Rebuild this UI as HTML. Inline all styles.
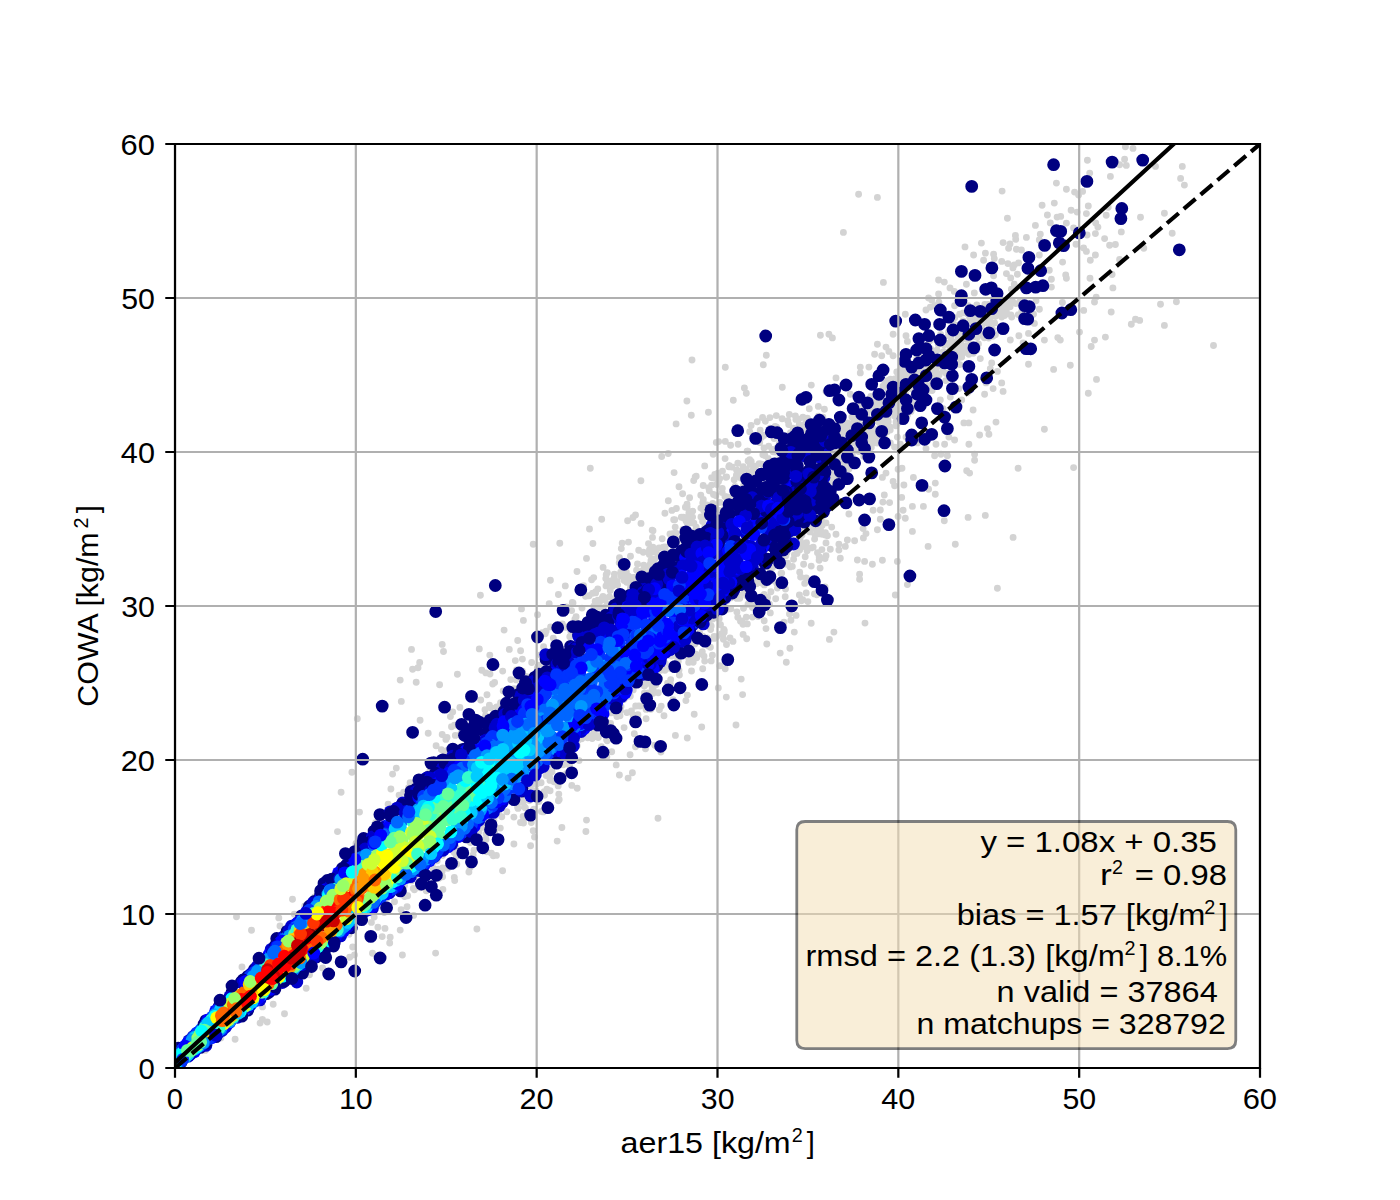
<!DOCTYPE html>
<html><head><meta charset="utf-8"><title>scatter</title>
<style>html,body{margin:0;padding:0;background:#fff;width:1400px;height:1200px;overflow:hidden}svg{display:block}</style>
</head><body>
<svg width="1400" height="1200" viewBox="0 0 1400 1200">
<defs><clipPath id="clip"><rect x="175" y="144" width="1085" height="924"/></clipPath></defs>
<rect width="1400" height="1200" fill="#fff"/>
<g clip-path="url(#clip)">
<path d="M740.5 621.2h0M733.5 495.3h0M524.1 818.8h0M592.9 543.5h0M795.9 419.4h0M700.9 508.1h0M683.4 517.2h0M518 808.4h0M640.2 706.1h0M638.4 705.9h0M758.1 616.5h0M688.9 512.9h0M703.3 499.4h0M220.8 1037.9h0M635.7 706h0M262.5 1006.9h0M804.4 430.5h0M770.3 612.9h0M628.5 542.1h0M583.6 585.8h0M750.9 474.3h0M606.8 756.8h0M515.3 660.6h0M706.9 505h0M811.4 547.9h0M692.7 511.1h0M554 781.8h0M694.9 644h0M242 967h0M552 771.7h0M374.2 917.1h0M514 688.6h0M633.1 577.5h0M673.4 533.4h0M677.7 659.1h0M762.9 454.8h0M653 530.8h0M995.4 334.8h0M442.6 876.8h0M500.3 828.1h0M487 694.8h0M718.3 687.9h0M746.3 617.1h0M489.4 705.1h0M415.3 877.1h0M959.8 364.6h0M822.9 417.3h0M896.8 371.9h0M481.8 670.2h0M556.8 781.5h0M807.4 418.1h0M802 535h0M814.5 593.9h0M614.4 574.2h0M939.1 375h0M701 517h0M597.5 735.7h0M820.1 568.1h0M794.4 554.6h0M576.1 616.7h0M822.2 516.7h0M871.3 447.5h0M978.4 343.9h0M711.2 626h0M638.7 550.2h0M598.3 737.6h0M674.1 472.6h0M799.7 572.2h0M961.1 346.4h0M760.2 430.2h0M743.1 466.7h0M652.5 537.4h0M729.3 465.6h0M724.2 632.3h0M550 780.4h0M976.8 349.9h0M607.2 740.8h0M558.4 594.5h0M683.4 518h0M685.9 700.6h0M404.5 885.4h0M589.1 595.8h0M725.2 668.7h0M976.8 305h0M509.3 649.4h0M752.5 607.5h0M510.8 679.6h0M621 706.5h0M799.4 595h0M668.2 453.5h0M713.5 494.5h0M722.2 492.6h0M887.9 418.8h0M407.7 895.8h0M679.4 675h0M768.7 446.1h0M847.3 423h0M540.4 654.9h0M742.6 694.6h0M907.5 415.1h0M676.4 508.5h0M544.5 795.2h0M614.3 577.4h0M635 583h0M787 564.2h0M911 411.4h0M984.4 337.7h0M767.6 597.4h0M759.7 442.5h0M566.4 773.6h0M967.7 338.6h0M963 320.9h0M712.4 655.3h0M959.7 314.3h0M606.6 739.8h0M865 623.1h0M746.7 638.7h0M284.5 1013.8h0M537.9 666.6h0M825.1 558.5h0M429.8 771.2h0M543.2 811.9h0M755.7 606.8h0M772 449.1h0M626.7 582.3h0M813.2 547.1h0M659.1 548h0M800.3 530.5h0M819.1 560.3h0M719.2 510.4h0M888.2 421.7h0M969.5 316.9h0M963.3 312.9h0M736.6 469.9h0M483 827.3h0M887.5 431.5h0M942.9 371h0M643.8 565.3h0M626.4 572.1h0M731.9 467h0M816.8 594.8h0M622.8 574.7h0M589.2 735.8h0M946.2 373.5h0M663.3 547.3h0M502.7 671.1h0M884.2 435.6h0M696.7 657.8h0M800.2 540.8h0M652.9 547.3h0M664 715.7h0M485 709.7h0M792.3 538.5h0M641 523.4h0M944.3 345.1h0M585.9 831.5h0M439.1 878.3h0M671.6 656h0M386.8 898.6h0M877.9 436.4h0M564.7 761.9h0M750.2 464.4h0M574.9 619.1h0M935.6 373.2h0M819.2 557.1h0M995.5 316.3h0M925.5 384.8h0M582 608.1h0M696.2 476.3h0M620.4 710.5h0M437.2 860.7h0M446.9 750.6h0M764.2 620.8h0M696.2 527.3h0M741.4 470.9h0M572.3 602.4h0M890.2 427.2h0M775.7 598.8h0M789.9 648.3h0M676 533.1h0M569.8 636.7h0M550.1 790.8h0M591.6 579.8h0M956.1 325.1h0M992.1 315.2h0M640.9 480.8h0M719.6 478.8h0M479.3 648.9h0M724.3 630.5h0M973.2 353.2h0M597.8 588.9h0M938.3 344.5h0M595.2 601.2h0M621.2 576h0M581.7 738.7h0M609.4 596.7h0M822.1 525.6h0M628.7 582.1h0M868.9 451h0M670.4 668.4h0M549.7 773.4h0M626.9 581.1h0M935.6 369.2h0M650.4 563.7h0M545.2 633.8h0M938.9 374h0M995.8 315.2h0M542.2 632.6h0M807.4 530.3h0M799.2 424.6h0M394.5 901.8h0M205.2 1050.4h0M523.5 823h0M775.2 426.5h0M619.5 557.7h0M654.8 745.3h0M984.8 304.4h0M985 305h0M595.6 592.9h0M887.5 380.7h0M686.1 521h0M956.1 347.3h0M737.9 427.1h0M702.7 636.2h0M530.6 845.7h0M932.1 390.6h0M653.1 693.3h0M937 350.3h0M501.8 816.7h0M802.9 417.2h0M852.3 454.8h0M630.1 754.7h0M648.2 693h0M879.7 401.6h0M646.1 709.4h0M592.7 593.3h0M691.5 671h0M800.6 577h0M550.6 626.9h0M459.9 707.4h0M719.2 618.7h0M755.4 471.3h0M816.3 529.8h0M709 624.3h0M992.9 336.2h0M968.2 305.7h0M946.6 343.8h0M749.7 431.8h0M570.8 631.6h0M686.6 656.3h0M825.2 535.1h0M711.2 660.9h0M759.2 463.6h0M689 657.2h0M714.1 638.4h0M624.1 727.6h0M720.5 624.8h0M911.3 388.7h0M685.4 507.3h0M637.9 714.8h0M563.3 764.8h0M798.7 419h0M738.1 444.2h0M916.6 359h0M460.8 733.8h0M380.3 905.7h0M541.1 782.7h0M444.3 755.4h0M496.4 855.4h0M484.3 823.5h0M544.2 791.6h0M546.9 789.1h0M420.4 887.7h0M655.9 684.7h0M390.2 937.3h0M632.7 585h0M913.2 396.7h0M772.8 580.6h0M716.8 477.6h0M821.6 521.5h0M802.7 599.6h0M964.6 347.7h0M770.9 591.7h0M411.4 880.9h0M793.6 559.3h0M573 602.9h0M688.7 662.4h0M582.8 735.4h0M371.4 922.4h0M399.1 795.1h0M952.7 350.7h0M595.8 736.5h0M496.7 706.9h0M998.6 313.8h0M798.3 529.6h0M729.4 465.8h0M541.4 811.4h0M992.5 329.5h0M587.7 737.7h0M490.6 707.8h0M653.2 689.9h0M648.5 543.6h0M617.1 581.4h0M470.4 842.6h0M522.6 795h0M634.8 577.4h0M719.9 502.4h0M912.5 407.9h0M769.5 604.2h0M851.9 416.9h0M408.6 787.6h0M486.1 834.3h0M695.2 477h0M976.6 318.3h0M578.2 740.2h0M451.5 726.7h0M690.8 522.9h0M770.2 428.1h0M1011.7 317h0M644.3 686.1h0M743 624.2h0M704 656.1h0M766 628.6h0M450.4 716.6h0M689.6 517h0M673.7 519.7h0M821.9 549.6h0M605.8 578.6h0M877.1 443.1h0M1018.3 314.6h0M502.6 870.8h0M790.9 620.2h0M957.1 361.4h0M932.1 384.3h0M660.9 752.1h0M550.4 580.3h0M887.8 424.4h0M687.1 522.7h0M662.2 538.8h0M845.4 463.8h0M504.1 630.1h0M710.6 629.6h0M886.4 419.1h0M736.4 475.2h0M901.3 372.2h0M757.2 421.8h0M702.3 651.7h0M701.7 727h0M676.1 423.9h0M750.1 472.1h0M356 843.4h0M702.8 502.9h0M723.4 639.3h0M825.1 586.9h0M434.1 861.3h0M689.4 641.7h0M687 504.2h0M491.4 853.2h0M649.4 554.5h0M795.4 415.9h0M621.3 548.6h0M775.2 452h0M485.6 715.4h0M768.2 458.4h0M716.3 442.4h0M872.5 443.4h0M526.1 676.5h0M674.7 519.7h0M822.2 534.3h0M784 622.2h0M989.9 319.8h0M1002.9 303h0M658.3 692.8h0M790.2 566.9h0M438.3 869.3h0M707.2 637.9h0M737.2 473h0M885.4 401.5h0M704.7 465.9h0M577.1 623h0M781.7 573.1h0M689.6 497.7h0M743.3 469.6h0M309.5 974.8h0M644.3 693.3h0M782.1 418.7h0M593.7 577.6h0M712.8 503.5h0M593.8 731.6h0M322.6 967.9h0M853.7 419.4h0M1020.4 300.6h0M628.3 580.5h0M628.1 778.1h0M896.6 408.4h0M894.8 403.7h0M747.9 451.3h0M899.5 399.8h0M676.7 539.2h0M776.5 427.1h0M885.2 421.7h0M730.6 445.3h0M955.7 356.7h0M949.5 342.9h0M764.2 594.4h0M593.8 606.1h0M668.6 655h0M520.6 650.8h0M730.6 597.9h0M950.4 348.1h0M901.7 403.8h0M943.6 351.8h0M692.6 656.7h0M503.2 691h0M382.2 936.6h0M337.5 831.6h0M646 684.2h0M480.7 700h0M954.3 342.3h0M867 431.7h0M725.1 458.6h0M630.3 696.3h0M493.9 820.8h0M638 581.9h0M610.3 590.5h0M764 447.9h0M981.7 326.3h0M954.7 317.8h0M792.3 566.4h0M900.9 368.7h0M744 591.3h0M633.2 689.9h0M654.9 559h0M918.7 355.1h0M524.5 806.9h0M549.2 765.1h0M539 801.5h0M531.7 662.5h0M456.4 856.6h0M864.3 427.7h0M935.2 366.3h0M708.4 645.9h0M899.1 422h0M890.5 379.1h0M987.2 311.6h0M787.5 563.1h0M643.3 552.2h0M737.8 617.3h0M905.6 393.9h0M615.8 598h0M945 351.9h0M958.8 351.9h0M294.3 914.2h0M984.7 322.5h0M500.6 702.8h0M661.7 456.5h0M902.9 376.4h0M743.5 486h0M806.5 542.7h0M592.2 738.6h0M916.9 359.9h0M785.5 589h0M738.5 595.3h0M566.2 627.4h0M876.4 405.5h0M637.5 564h0M523.1 816.4h0M699.7 632.6h0M650.9 709.3h0M726 477.3h0M485.9 672.9h0M646.1 718.8h0M807 429.6h0M906.4 370.6h0M737.8 463.3h0M579.1 760.6h0M577 571.5h0M802.9 432.3h0M314.7 896.9h0M603 596.5h0M506.9 811.8h0M531.3 822.6h0M428.2 733.2h0M861 404.3h0M493.4 821.8h0M752.2 604.3h0M646 704.8h0M883.5 407.4h0M260.1 1023.1h0M610.8 712.9h0M435.6 953.1h0M349.1 934.3h0M712.8 619.1h0M708.8 626.3h0M595.6 591.6h0M630.4 587.9h0M773.1 451.7h0M687.4 695.1h0M441.4 749.6h0M687.1 506.9h0M598.2 607.4h0M606.2 574.8h0M603.3 607.8h0M764.9 455.5h0M519.8 801.8h0M945.8 380.6h0M978.8 317.4h0M958.2 337h0M753.3 469.7h0M651 560.4h0M687.3 738h0M643.5 678.3h0M770.2 571.4h0M883.8 420.5h0M1003.2 304.7h0M679 670.1h0M566.5 607h0M706.1 515.8h0M693.2 662.3h0M626 697.2h0M603.1 567.4h0M494.5 816.4h0M718.6 441.6h0M930.6 349h0M602.5 756.1h0M389.7 943h0M932.8 353.7h0M593 737.6h0M178.6 1074.5h0M354.5 954.9h0M562.3 624h0M777.3 460h0M715.8 510.5h0M470.1 867.6h0M846.3 426.2h0M934.1 377.7h0M963.8 352.4h0M521.7 800.8h0M607.1 604.1h0M631.4 710.9h0M960.1 333.8h0M916.6 372.2h0M456.1 847.6h0M776.3 415.6h0M952.7 353.3h0M665.2 546.9h0M442.1 871.5h0M693.7 480.6h0M919.1 370.3h0M624.2 580.5h0M870.8 396.5h0M436.1 745.7h0M933.5 365.9h0M590.3 468.3h0M908.1 374.6h0M722.5 471.1h0M642.5 570.7h0M682 537.1h0M876.5 436h0M659.4 709.8h0M719.9 665.8h0M671.9 510.4h0M567.4 626.9h0M852.7 424h0M751.1 425.4h0M904.7 377.8h0M807 549.1h0M513.9 844h0M692.6 517.1h0M494.7 832.5h0M818.4 416.2h0M825.4 532.8h0M779.2 443.9h0M620.7 572.3h0M885 383.4h0M650.9 683.1h0M679 486.8h0M798.5 532.6h0M665.3 663.4h0M636.6 570.3h0M877 433.1h0M601.4 746.8h0M633 686.1h0M894.8 378.9h0M445.9 739.4h0M447.8 868.2h0M854.1 419.9h0M708.7 487.8h0M697.6 654.9h0M602.3 597.6h0M704.7 661.1h0M536.5 784.3h0M635.5 746.7h0M931.6 369.5h0M533.2 830.7h0M863.7 456.4h0M714.1 478h0M634.3 733.7h0M809.8 530.7h0M748 604.3h0M571.6 610.6h0M410.1 782.6h0M1009.1 301h0M549.2 603.6h0M513.9 817.1h0M871.1 432h0M529.3 800.6h0M734.2 479.8h0M711.6 477.6h0M1000 305h0M616.6 583.4h0M959.2 334.3h0M806.2 592.9h0M818.6 526.7h0M977.3 337.3h0M664.9 513.2h0M747.1 451.3h0M498.5 811.3h0M781 573.4h0M681.3 517.2h0M649.5 549.7h0M968.2 353.3h0M530.5 786.6h0M516.3 679.9h0M661.2 706.1h0M709.3 490.7h0M854.2 418.3h0M711.6 485.1h0M947.9 373.6h0M933.8 380.4h0M739.8 598.3h0M758.1 579.9h0M818.5 533.8h0M473.1 854.9h0M622.2 543.1h0M762.6 417.5h0M645.5 748.7h0M790.5 432.7h0M523.1 802.6h0M694.3 531.8h0M607.3 582.6h0M970.9 344h0M522.5 671.3h0M788.7 424.5h0M721.5 512.4h0M785.8 555.7h0M746.5 469.6h0M558.4 800.7h0M292.5 899.2h0M525.4 807.9h0M567.8 763h0M777.4 588.1h0M710.4 647.2h0M704.7 527.1h0M603.1 599h0M787.8 420.7h0M870.3 410h0M988.2 304.4h0M724.7 508.2h0M872.8 406.5h0M478.9 831.9h0M835.8 477.5h0M667.6 683.1h0M741.9 620.9h0M1012.1 300.2h0M726.6 476.9h0M909 374.8h0M546.2 775.5h0M633.1 715h0M390.9 789h0M936.7 340.6h0M586.3 735.7h0M709.8 505.4h0M988.6 338h0M777.1 447.9h0M841.7 458.1h0M433.2 868.3h0M875.5 429.6h0M716.8 484.6h0M913.4 388h0M756.5 470.8h0M535.9 790.8h0M404.6 896.5h0M623.9 699.5h0M965.1 338.7h0M871.4 406.5h0M667.7 552.7h0M722.7 635.3h0M726.5 644.5h0M528.7 786h0M944.7 354.2h0M968.4 347.1h0M905.4 378.7h0M725 496.5h0M278.8 917.9h0M929.6 375h0M534.5 837.1h0M601.7 519.3h0M605 599.8h0M735 486.5h0M442.7 868h0M834.1 450.5h0M489.8 655.1h0M808.5 524.6h0M871.8 432h0M612.8 585.9h0M942.5 355.8h0M911.5 402.5h0M718.5 481.5h0M807.1 550.7h0M733 641.4h0M686.9 401h0M664.9 670.3h0M749.7 459.8h0M447 737.4h0M715.4 508h0M652.2 687.7h0M948.6 332h0M725.3 441.4h0M490 674h0M866.9 414.4h0M730.8 608.7h0M748.1 460.9h0M654.7 551.9h0M805.4 544.6h0M776.7 583.2h0M553.3 638.1h0M610.6 723.5h0M715.8 495.5h0M830.9 472.8h0M549.6 776.8h0M718.7 515.5h0M954.5 354.5h0M1010.1 306.8h0M743.5 608.3h0M756.5 583.8h0M865.5 413.8h0M749.7 461.8h0M765.3 421.3h0M375.6 822.8h0M630.5 556.2h0M817.5 552.8h0M923.9 366.7h0M952.4 320.7h0M616.4 714.5h0M761.7 583h0M967.9 323.2h0M633 517.5h0M755.3 466.2h0M928.9 390.6h0M981.9 334.9h0M585.5 596.2h0M533.9 809.1h0M486.2 718.4h0M901 400.5h0M883 386.3h0M652.5 560.8h0M838.2 480.1h0M842.7 432.3h0M617 716.6h0M801.3 535.8h0M870.2 428h0M546.1 631.3h0M560.5 775.1h0M849 468.9h0M993.6 333.8h0M660.8 670.2h0M940.6 334.5h0M797 553.4h0M840.4 478.1h0M577.2 745.7h0M722.3 488.5h0M539.2 665.1h0M523.4 620.4h0M843.6 467.8h0M769.9 417.6h0M950.9 337.4h0M695.8 654.3h0M736.9 598.4h0M926.8 386.5h0M972.7 320.9h0M714.1 636.4h0M842 463.9h0M726.8 609.5h0M874.2 413.8h0M900.3 377.8h0M670.7 679.7h0M677.3 541.4h0M867.5 439.8h0M740.8 478h0M806.2 578h0M874.6 402.3h0M670.3 683.8h0M620 715.8h0M761.9 464.2h0M536 778.8h0M726.9 601h0M870.1 400.5h0M703.6 510.6h0M714.8 474.4h0M401.1 909.7h0M954.8 345.2h0M721.8 633.7h0M796.1 615.4h0M884.4 384.9h0M610.7 580.9h0M413.6 915.4h0M617.6 585h0M668.3 500.8h0M856.7 448.7h0M774.1 438.5h0M682.6 493.8h0M897.9 380.4h0M569.6 765.5h0M689.9 647.1h0M673 699.6h0M932.3 387.9h0M958 335.4h0M943.8 343.5h0M819.2 556.7h0M858.6 451.5h0M885.3 423.4h0M718 473.3h0M793.2 428.1h0M924.9 364.8h0M988.8 324.8h0M971.1 314.7h0M894.6 415.9h0M973.7 336.5h0M589.5 529h0M627.6 520.8h0M652.4 559h0M872.9 439.1h0M787 552.4h0M486.6 851.8h0M836.4 473.2h0M1007 303.3h0M877.2 403.6h0M887.6 388.4h0M616.2 764.9h0M789.5 614h0M736.9 612h0M384.3 912.6h0M831.3 483.8h0M426.3 890.7h0M728.8 466.7h0M842 426.2h0M838.3 465.2h0M647.2 568.8h0M895.5 412.9h0M763.8 435.4h0M970.6 344.3h0M517.7 640.5h0M850.1 426.2h0M635.5 515h0M474 850.3h0M702.6 521.4h0M960.7 343.3h0M517.6 807.3h0M968.2 314.5h0M809.8 531.9h0M619.2 562.7h0M853.4 442.7h0M879.6 410.4h0M1004.8 308.1h0M869.8 435.5h0M658.8 555.3h0M984.6 333.7h0M1002.8 310h0M842.2 456h0M764.3 584.9h0M716.6 636.8h0M879 422.6h0M744.4 593h0M682.8 529.4h0M801.4 547h0M656.1 549.2h0M454.7 880.6h0M971.4 323.7h0M835.6 456.8h0M966.9 345.7h0M882.7 419.3h0M561.9 827.5h0M898.2 373.9h0M652.2 530.2h0M235.1 1039.2h0M959.5 343h0M975.9 321.3h0M586.3 734.9h0M455.3 735.4h0M486 839.5h0M964.2 330.7h0M841.9 437.9h0M772.6 567.6h0M828.4 452.2h0M852.9 428.9h0M933.6 365.2h0M392.6 774.1h0M763.3 597.4h0M998.2 310.3h0M846.9 430.7h0M597.9 600.1h0M868.8 436.4h0M611.7 751.8h0M413.3 888.5h0M909.1 379.6h0M857.4 420.2h0M702.7 668.8h0M549.5 774.9h0M414.4 889.8h0M543.6 646.8h0M723.8 629.4h0M853.3 441.1h0M837.4 449.6h0M862.2 408h0M820.5 530.2h0M859.6 449.5h0M746.4 595.6h0M761.5 437.3h0M799.7 427.4h0M829.4 639.4h0M896.1 421.9h0M814.6 539.1h0M403.7 792.1h0M727.3 497h0M700.8 495.3h0M798.7 542.1h0M929.8 340.8h0M520.5 822.5h0M984.7 317.7h0M799.6 550h0M839.4 435.4h0M703.2 485.5h0M933.2 364h0M751.2 461.4h0M454.3 877.4h0M869.1 427.2h0M895 410.5h0M599.8 601.5h0M890.2 429.9h0M687.2 655.4h0M1011.3 300.9h0M835.3 454h0M262.4 1019.4h0M388.1 804.3h0M861.3 424.6h0M628.5 576.1h0M837.8 453.6h0M862.2 429.3h0M928.8 366.6h0M896.8 381.4h0M815.1 535.1h0M675.2 527.1h0M304.7 905.9h0M805.2 424h0M868.3 419h0M843.3 422.2h0M454.2 852.4h0M479.5 826.9h0M752.5 617.1h0M941.1 366.5h0M558.2 785.9h0M678.3 661.2h0M807.2 419.2h0M813.8 525.3h0M1004.6 315.5h0M805.2 556.8h0M743.1 634.4h0M607.3 572.7h0M537.3 668.3h0M878.7 403.5h0M851.8 453.3h0M670 533.9h0M693.9 523.3h0M942.8 343.4h0M456.8 864.3h0M798.7 539.3h0M946.3 353.2h0M837.2 461.8h0M442.4 855.5h0M713.2 454.2h0M1006.4 311.7h0M900.9 410h0M626.9 712.6h0M842.1 452.3h0M831.6 477.4h0M965.7 323h0M543.6 770.3h0M872.1 426.8h0M1010.9 315h0M937.4 363.6h0M948.3 335.6h0M452.7 712h0M494.6 682.4h0M1087.4 160.3h0M1089.7 173.1h0M1056.4 183.1h0M1066.4 189.3h0M1074.6 192.1h0M1078.6 195h0M1082.6 191.4h0M1002.1 191.1h0M1054.3 203.1h0M1042.1 205.3h0M1088.3 206h0M1071.1 210.3h0M1077.1 212.1h0M1086.4 213.6h0M1047.4 215h0M1057.1 217.1h0M1060.7 216.4h0M1007.4 218.3h0M1050.3 222.9h0M1066.4 223.1h0M1035.4 225.4h0M1073.6 227.9h0M1095.7 222.9h0M1097.9 227.1h0M1095.4 233.6h0M1087.1 235h0M1040.3 234.3h0M1015.4 235.4h0M1015.7 239.3h0M1026.4 237.4h0M1039.3 240h0M1003.1 242.6h0M1010 244h0M1008.6 248.3h0M981.4 243.1h0M965 246.9h0M1076 244.3h0M1083.6 247.9h0M1086.4 251.4h0M1016.4 249.3h0M1021.4 250h0M1039.3 255h0M985.4 253.1h0M973.6 255h0M993.6 254.3h0M994.3 258.6h0M1095.4 255h0M1090.3 260.3h0M983.6 260.3h0M1001.7 261.4h0M1007.9 263.6h0M1014.3 265h0M1018.6 262.9h0M1012.9 267.9h0M1062.6 262.1h0M1006.4 273.6h0M1010.7 277.9h0M1017.4 274.3h0M1049.3 270.3h0M1065.7 275h0M1066.4 278.3h0M1090 278.3h0M993.6 275.7h0M966.4 284.3h0M938.6 280h0M944.3 282.1h0M950 287.9h0M954.3 291.4h0M938.6 294h0M1051.4 279.3h0M1051.4 287.1h0M1014.3 284.3h0M1011.4 289.3h0M974.3 292.9h0M858.6 194.3h0M877.4 197.4h0M843.4 232.4h0M883.4 282.4h0M928.6 297.9h0M1125.4 146.7h0M1133 148.4h0M1124.6 159.2h0M1119.6 164.7h0M1126.3 165.4h0M1155.5 166.4h0M1182.3 166.4h0M1110.4 176.4h0M1180.6 178.4h0M1184.4 185.1h0M1108.2 207.2h0M1106.2 215.2h0M1140.5 217.2h0M1164.4 213.2h0M1121.3 231.9h0M1172.2 233.3h0M1104.6 238.6h0M1109.6 245.3h0M1115.4 244.5h0M1143.8 248.3h0M1119.6 259.5h0M1112.1 274.5h0M1112.9 287.9h0M1096.2 297.1h0M1036 300.8h0M1039.4 309.2h0M1033.5 314.2h0M1034.4 323.4h0M1062.4 302.5h0M1094.5 302h0M1083.7 310.4h0M1111.2 312h0M1160.5 304.2h0M1176.4 301.7h0M1135.5 319.2h0M1139.7 320.4h0M1131.3 324.2h0M1164.4 325.4h0M1079.5 332.1h0M1028.5 333.4h0M1044.4 340.1h0M1057.8 337.6h0M1060.3 340.1h0M1094.5 340.1h0M1091.2 346.5h0M1105.4 337.1h0M1213.5 345.5h0M1028.5 364.3h0M1053.6 369.4h0M1070.3 365.2h0M1096.5 379.4h0M1088.3 393.3h0M1044.4 429.2h0M1073.6 467.6h0M828.9 334.3h0M832.4 337.9h0M905.3 314.3h0M926 310h0M930.3 307.1h0M934.6 305.7h0M938.9 302.1h0M931.7 300h0M954.6 305.7h0M1001.7 317.1h0M1010.3 301.4h0M1016 303.6h0M1021.7 311.4h0M983.1 318.6h0M994.6 322.9h0M1010.3 340h0M1018.9 335.7h0M1023.1 342.9h0M893.1 334.3h0M906 335.7h0M907.4 341.4h0M877.4 344.3h0M886 347.1h0M888.9 351.4h0M893.1 355.7h0M881.7 355.7h0M874.6 354.3h0M860.3 367.1h0M868.9 367.1h0M860.3 372.9h0M836 377.9h0M850.3 394.3h0M826 391.4h0M943.1 367.1h0M961.7 357.1h0M968.9 354.3h0M980.3 358.6h0M991.7 362.9h0M990.3 368.6h0M997.4 371.4h0M1001.7 382.9h0M1003.1 391.4h0M993.1 388.6h0M984.6 394.3h0M986 382.9h0M973.1 410h0M996 422.1h0M987.4 428.6h0M988.9 434.3h0M979.6 435h0M968.9 444.3h0M974.6 454.3h0M963.9 422.9h0M968.9 422.9h0M954.6 440h0M948.9 437.1h0M936 444.3h0M944.6 444.3h0M934.6 455.7h0M947.4 455.7h0M926 448.6h0M917.4 442.9h0M906 437.1h0M900.3 444.3h0M894.6 447.1h0M961.7 400h0M967.4 392.9h0M958.9 388.6h0M950.3 397.1h0M940.3 400h0M943.1 408.6h0M904.6 368.6h0M896 425.7h0M890.3 442.9h0M897.4 437.1h0M941 454.3h0M974.6 460.3h0M1018.1 468.3h0M966.7 470.7h0M969.6 473.1h0M902 468.3h0M898.1 469.3h0M886 473.1h0M882.4 477.4h0M913.4 477.4h0M935.3 483.1h0M903.9 485h0M893.1 481.4h0M894.6 485.7h0M928.6 489.3h0M935.3 494.3h0M884.3 495h0M901.7 497.4h0M882.9 502.1h0M889.6 502.6h0M912.4 506.4h0M923.4 506.4h0M903.1 510.3h0M873.1 510.3h0M880.3 510h0M848.9 514h0M898.1 516.4h0M905.3 518.3h0M880.3 519.3h0M968.1 517.4h0M985.3 515.4h0M944.3 520.7h0M912.4 531.4h0M877.4 529.7h0M863.1 528.6h0M866 533.6h0M863.4 537.9h0M1013.1 537.4h0M955.3 544.3h0M928.1 546.4h0M826 522.9h0M831.7 527.1h0M836 534.3h0M827.4 535.7h0M826 542.9h0M847.4 540h0M854.6 540.7h0M845.3 546.4h0M838.9 544.3h0M838.9 550h0M830.3 549.3h0M826 555.7h0M840.3 558.3h0M857.4 560h0M864.6 561.4h0M872.4 564.3h0M882.4 560.3h0M897.4 561.4h0M859.6 574.3h0M859.6 579.3h0M907.4 584.6h0M997.4 588.3h0M895.3 595h0M480.4 595.2h0M533.2 544.3h0M559.8 543.2h0M586.5 558.4h0M565.3 585.9h0M606 585.9h0M521.5 608.9h0M537.5 614.7h0M411.5 649.4h0M442.2 644.4h0M443.5 651.5h0M419.7 662.4h0M412.6 669.3h0M418 667.8h0M457.4 674.3h0M400.2 680.1h0M416.2 682.3h0M439.6 684.7h0M496.4 665.2h0M522.4 659.1h0M516.5 670h0M492.7 684h0M401.3 701.4h0M357.3 718.7h0M420.1 720.2h0M454.4 725.2h0M442.2 734.5h0M396.3 768.1h0M351.9 772.2h0M341.1 792.3h0M619.4 775h0M632.4 772.8h0M586.5 820.1h0M557.2 841.1h0M493.3 855.8h0M468.9 872h0M442.9 889.4h0M407.1 906.7h0M476.9 929h0M400.2 930.1h0M377.9 927.3h0M385 928.4h0M402.4 955h0M372.5 953.3h0M349.7 957.2h0M359.5 812.1h0M571.8 785.4h0M577.2 788.2h0M558.8 794.1h0M559.2 799.5h0M236.5 916.7h0M251.5 930.2h0M280 926h0M273.2 1004.3h0M267.2 1022h0M306.2 988.2h0M352.7 947h0M833.9 632.1h0M811.2 623.2h0M794.3 632.1h0M766.8 644h0M780.2 653.1h0M786.3 662.2h0M741.2 679.1h0M726.3 697.1h0M736 725h0M694.2 714.2h0M675.4 735.4h0M658 818.2h0M803.6 564.3h0M811.2 566.1h0M804.7 583.4h0M801.4 600.7h0M807.9 601.6h0M785.2 596.8h0M747.3 623.9h0M730 638h0M692 360h0M725.3 367.3h0M766.3 355.3h0M763.3 364.7h0M820.4 335.3h0M744.4 388h0M746.3 393.3h0M733.3 400.3h0M782.3 387.3h0M811.3 385.1h0M708.4 412.3h0M691.3 415.3h0M789.3 414.4h0M818.3 406.4h0M824.4 409.3h0M809.3 408.7h0" stroke="#d3d3d3" stroke-width="6.90" stroke-linecap="round" fill="none"/>
<g stroke-width="12.80" stroke-linecap="round" fill="none"><path d="M789.3 531.3h0" stroke="#000080"/>
<path d="M200.9 1029.5h0" stroke="#0066ff"/>
<path d="M711.8 525.7h0" stroke="#0000cc"/>
<path d="M779.6 562.9h0M774.3 464h0M570.6 646.4h0M433.7 762.6h0M605.6 615.2h0M571.5 649.1h0" stroke="#000080"/>
<path d="M499.4 806h0" stroke="#0000cc"/>
<path d="M685.7 538.1h0M219.2 1006.5h0" stroke="#000080"/>
<path d="M665.6 652.2h0" stroke="#0000cc"/>
<path d="M400.4 890.9h0M780.4 463.3h0M416.4 788.8h0M247.9 976.4h0M333.6 946h0M761.5 474.1h0M620.1 594.3h0M598.1 725.2h0M713.7 612.3h0" stroke="#000080"/>
<path d="M218.6 1008.4h0M573.4 746h0" stroke="#0000cc"/>
<path d="M597.2 617.2h0" stroke="#000080"/>
<path d="M793.5 544h0" stroke="#0000cc"/>
<path d="M342.3 868.5h0" stroke="#000080"/>
<path d="M396.3 887.4h0" stroke="#0000cc"/>
<path d="M819.4 420.2h0M720 520.7h0M790.4 449.6h0M769.1 466.2h0" stroke="#000080"/>
<path d="M405.6 877.6h0" stroke="#0033ff"/>
<path d="M603.1 713.9h0M402.2 879.2h0" stroke="#0000ff"/>
<path d="M797.7 432.9h0M777.2 432.7h0M327.4 880.5h0" stroke="#000080"/>
<path d="M489 812.4h0" stroke="#0000ff"/>
<path d="M710.4 515h0M664.4 557h0" stroke="#000080"/>
<path d="M291.6 926.1h0M372.4 908.4h0" stroke="#0000cc"/>
<path d="M254.6 969.4h0M216 1036.7h0M673.8 705h0M795.1 436.1h0M521.6 791.1h0" stroke="#000080"/>
<path d="M478.9 820.3h0M794.9 529.6h0" stroke="#0000cc"/>
<path d="M436.3 895.2h0" stroke="#000080"/>
<path d="M824 477.5h0" stroke="#0000cc"/>
<path d="M276.7 938.5h0M748 580.9h0" stroke="#000080"/>
<path d="M616.6 703.3h0" stroke="#0000ff"/>
<path d="M785.3 541.8h0" stroke="#000080"/>
<path d="M669.9 649.7h0" stroke="#0000cc"/>
<path d="M816.3 429.4h0" stroke="#000080"/>
<path d="M715.2 608.2h0" stroke="#0000cc"/>
<path d="M427.7 777.5h0M324 883.3h0" stroke="#000080"/>
<path d="M271.2 949.3h0" stroke="#0000cc"/>
<path d="M314.5 901.3h0M824.9 472.4h0" stroke="#000080"/>
<path d="M215.7 1010.8h0" stroke="#0000ff"/>
<path d="M205.9 1020.6h0" stroke="#000080"/>
<path d="M573.5 647.9h0" stroke="#0000cc"/>
<path d="M681.1 653.2h0" stroke="#000080"/>
<path d="M175.6 1056.7h0" stroke="#0000ff"/>
<path d="M761.3 474.3h0M818.6 432.8h0" stroke="#000080"/>
<path d="M581.1 731.5h0" stroke="#0000cc"/>
<path d="M181 1062.2h0M815.6 520.8h0M363.6 838.5h0M781.4 469.6h0" stroke="#000080"/>
<path d="M396.9 885.7h0" stroke="#0000ff"/>
<path d="M790.9 527.6h0M703.3 623.9h0" stroke="#0000cc"/>
<path d="M603.3 618.4h0" stroke="#000080"/>
<path d="M434.5 856.5h0" stroke="#0000cc"/>
<path d="M320.5 895.2h0M708.8 530.1h0M316.3 957h0" stroke="#000080"/>
<path d="M660 661.8h0" stroke="#0000cc"/>
<path d="M247.8 1010.1h0" stroke="#000080"/>
<path d="M427 777.8h0" stroke="#0000cc"/>
<path d="M462.3 749.6h0" stroke="#000080"/>
<path d="M197.7 1032.6h0" stroke="#0033ff"/>
<path d="M269.2 954.4h0M196.4 1033.6h0M280.5 942.1h0" stroke="#0000ff"/>
<path d="M231.8 992.8h0M492.9 664.5h0" stroke="#000080"/>
<path d="M665.1 650.9h0" stroke="#0000cc"/>
<path d="M266.5 993.6h0M329 882.7h0M556.6 645.6h0M525.7 681.7h0" stroke="#000080"/>
<path d="M824.9 450.6h0" stroke="#0000cc"/>
<path d="M771.3 431.9h0" stroke="#000080"/>
<path d="M429.4 860.7h0" stroke="#0000ff"/>
<path d="M586.3 631.7h0M799.7 444.3h0M452.8 749.1h0M681.6 550.7h0M781 448.2h0" stroke="#000080"/>
<path d="M452.6 756.2h0" stroke="#0000cc"/>
<path d="M179.4 1062.7h0M307 911.4h0M296.6 923.8h0" stroke="#0000ff"/>
<path d="M475.6 720.1h0" stroke="#000080"/>
<path d="M402.8 802.8h0M733.9 589.9h0" stroke="#0000cc"/>
<path d="M421.4 884h0" stroke="#000080"/>
<path d="M558 758.9h0" stroke="#0000cc"/>
<path d="M534.8 677.3h0M578.5 634.8h0M821.5 478.8h0" stroke="#000080"/>
<path d="M543.2 766.4h0" stroke="#0000cc"/>
<path d="M178.4 1048.2h0M521.9 788.4h0M804.5 522.1h0" stroke="#000080"/>
<path d="M374.5 902.9h0" stroke="#0033ff"/>
<path d="M743.7 492h0M776.3 553.1h0M241.4 982.1h0M656.8 665.7h0" stroke="#000080"/>
<path d="M177.6 1055.4h0" stroke="#0033ff"/>
<path d="M283.5 936.8h0M692.7 624.9h0" stroke="#0000cc"/>
<path d="M462.8 852.9h0" stroke="#000080"/>
<path d="M194.4 1051.6h0" stroke="#0000ff"/>
<path d="M282.3 982.5h0" stroke="#0000cc"/>
<path d="M200.3 1047.4h0M504 711.4h0M546 659.3h0M555.5 666.6h0M560.1 778.3h0" stroke="#000080"/>
<path d="M285 937.6h0M693 623h0" stroke="#0033ff"/>
<path d="M786 456.8h0M685.9 531.9h0M722 609h0M735.7 491.1h0M688.3 544.9h0M607.4 617.4h0" stroke="#000080"/>
<path d="M545.7 654.6h0" stroke="#0000cc"/>
<path d="M440.8 761.6h0" stroke="#000080"/>
<path d="M437.2 853h0" stroke="#0000ff"/>
<path d="M351.4 927.8h0" stroke="#000080"/>
<path d="M372.4 905.6h0" stroke="#0000ff"/>
<path d="M274.9 989.1h0" stroke="#000080"/>
<path d="M451.8 844.1h0" stroke="#0000cc"/>
<path d="M676.6 647.2h0" stroke="#000080"/>
<path d="M725.2 597.5h0" stroke="#0000cc"/>
<path d="M798 520.7h0" stroke="#000080"/>
<path d="M621.6 696.4h0" stroke="#0000cc"/>
<path d="M374.1 831.1h0M673.3 541.9h0M346.2 865.6h0" stroke="#000080"/>
<path d="M448.1 846.7h0M216.1 1011.6h0" stroke="#0000ff"/>
<path d="M783.3 541.3h0" stroke="#000080"/>
<path d="M802.5 516.7h0" stroke="#0000cc"/>
<path d="M461.6 724.4h0M663.6 565h0M614.1 610.4h0M825.2 487.5h0M734.9 587.1h0" stroke="#000080"/>
<path d="M660.6 658.6h0" stroke="#0000cc"/>
<path d="M338.5 872.9h0" stroke="#0000ff"/>
<path d="M502.5 801.9h0" stroke="#0000cc"/>
<path d="M603 752.2h0" stroke="#000080"/>
<path d="M179.8 1053h0" stroke="#0099ff"/>
<path d="M785.8 534.7h0" stroke="#0000cc"/>
<path d="M593.9 615.9h0M700.2 622h0M323.2 887.9h0M411.1 791.4h0" stroke="#000080"/>
<path d="M717.8 602.8h0" stroke="#0000cc"/>
<path d="M418.9 779.9h0M466.4 836.9h0" stroke="#000080"/>
<path d="M643.9 585.1h0" stroke="#0000cc"/>
<path d="M575.5 647.9h0M379.9 814.6h0M797.9 445.9h0" stroke="#000080"/>
<path d="M493.4 812.4h0" stroke="#0000cc"/>
<path d="M442.8 759.9h0" stroke="#000080"/>
<path d="M611.5 617.3h0" stroke="#0000cc"/>
<path d="M275.2 945.7h0M706.4 531.9h0M751.3 595.9h0M204 1024.4h0" stroke="#000080"/>
<path d="M372.4 837h0" stroke="#0000cc"/>
<path d="M772.6 546.3h0" stroke="#000080"/>
<path d="M297.8 922.7h0M320.4 898.4h0" stroke="#0000ff"/>
<path d="M287.1 931.3h0" stroke="#000080"/>
<path d="M446.1 846.5h0" stroke="#0033ff"/>
<path d="M208.1 1019.8h0" stroke="#0000ff"/>
<path d="M175 1066h0" stroke="#0066ff"/>
<path d="M575.9 648.7h0M225.6 1026.9h0M786.5 528h0" stroke="#0000cc"/>
<path d="M800.4 515.1h0M726 512.7h0M617.8 603.6h0M783.3 527.1h0" stroke="#000080"/>
<path d="M682 641.1h0M671.9 647.3h0" stroke="#0000cc"/>
<path d="M368.3 909.8h0" stroke="#0000ff"/>
<path d="M428.9 859.8h0" stroke="#0033ff"/>
<path d="M691.9 536.2h0" stroke="#000080"/>
<path d="M441.5 768.9h0M389.5 892.8h0" stroke="#0000cc"/>
<path d="M722.2 521h0" stroke="#000080"/>
<path d="M222.1 1030.5h0" stroke="#0000cc"/>
<path d="M784.6 451.2h0M797.3 520.3h0M301.6 915.8h0" stroke="#000080"/>
<path d="M792.3 515.4h0" stroke="#0000cc"/>
<path d="M614.5 605.4h0" stroke="#000080"/>
<path d="M615.6 609h0" stroke="#0000cc"/>
<path d="M814.8 483.5h0" stroke="#000080"/>
<path d="M390.2 811.8h0" stroke="#0000cc"/>
<path d="M824.2 472.2h0M738.1 501.7h0M769.9 576.6h0" stroke="#000080"/>
<path d="M643.3 674.3h0" stroke="#0000cc"/>
<path d="M584.3 728.4h0" stroke="#0000ff"/>
<path d="M217.9 1010h0" stroke="#0033ff"/>
<path d="M750.3 485.7h0" stroke="#000080"/>
<path d="M677 639.2h0" stroke="#0000ff"/>
<path d="M347.1 927.3h0" stroke="#0000cc"/>
<path d="M367.5 843.4h0M699.4 538.1h0" stroke="#000080"/>
<path d="M393.8 887.6h0M386.3 893.9h0" stroke="#0000ff"/>
<path d="M181.6 1060.7h0" stroke="#0033ff"/>
<path d="M800.8 448.1h0M800.5 513.2h0" stroke="#000080"/>
<path d="M212.6 1016.7h0" stroke="#0033ff"/>
<path d="M259.9 999.9h0" stroke="#0000cc"/>
<path d="M621.6 600h0" stroke="#000080"/>
<path d="M491.1 810.3h0" stroke="#0000cc"/>
<path d="M391.7 889.3h0" stroke="#0033ff"/>
<path d="M424.4 864.6h0" stroke="#0000ff"/>
<path d="M746.6 479.1h0M598.4 621.3h0" stroke="#000080"/>
<path d="M250.9 1004.4h0" stroke="#0033ff"/>
<path d="M653.4 668.8h0M790.9 486.2h0" stroke="#0000ff"/>
<path d="M491.1 824.9h0M751.6 496.2h0" stroke="#000080"/>
<path d="M761.9 548.6h0" stroke="#0000cc"/>
<path d="M286.1 937.7h0" stroke="#0066ff"/>
<path d="M421.8 786.3h0" stroke="#000080"/>
<path d="M695.3 618h0" stroke="#0000ff"/>
<path d="M764.7 604.8h0" stroke="#000080"/>
<path d="M325.4 889.7h0M763.3 545.9h0M386.2 826.1h0" stroke="#0000ff"/>
<path d="M552.7 654.2h0M715.7 526.9h0" stroke="#000080"/>
<path d="M423.5 863.3h0" stroke="#0033ff"/>
<path d="M309.4 906.2h0M821.7 443.2h0" stroke="#000080"/>
<path d="M492 806.3h0" stroke="#0033ff"/>
<path d="M347 864.8h0M667.9 563.2h0M445.4 760.7h0M740.3 584.7h0M815.7 508.1h0" stroke="#000080"/>
<path d="M556.9 664.4h0" stroke="#0000cc"/>
<path d="M691.5 544.1h0M514 799.6h0" stroke="#000080"/>
<path d="M348.2 925.6h0" stroke="#0000cc"/>
<path d="M398 884.1h0" stroke="#0000ff"/>
<path d="M205.9 1045.4h0" stroke="#0000cc"/>
<path d="M195.1 1050.1h0" stroke="#0000ff"/>
<path d="M176.3 1065h0" stroke="#0033ff"/>
<path d="M364.3 911.5h0" stroke="#0000cc"/>
<path d="M724.4 597.4h0" stroke="#000080"/>
<path d="M251.3 973.7h0M296.8 982h0M578.8 636.4h0" stroke="#0000cc"/>
<path d="M214.5 1014.7h0" stroke="#0066ff"/>
<path d="M518.7 694.3h0M791 463.5h0" stroke="#000080"/>
<path d="M175 1063.9h0" stroke="#00ccff"/>
<path d="M811.4 500.2h0" stroke="#0000cc"/>
<path d="M782.6 464.4h0M670.2 566.8h0M629.7 595.3h0M479.5 722.2h0M325.8 947.6h0M621.6 609h0" stroke="#000080"/>
<path d="M249.7 976.7h0" stroke="#0033ff"/>
<path d="M790.8 452.4h0" stroke="#0000cc"/>
<path d="M782.2 470.6h0" stroke="#000080"/>
<path d="M217 1034.3h0" stroke="#0000cc"/>
<path d="M815.9 442.8h0M506.4 703.2h0" stroke="#000080"/>
<path d="M534.5 680.9h0" stroke="#0000cc"/>
<path d="M605 705.5h0" stroke="#0033ff"/>
<path d="M261.7 995h0" stroke="#0066ff"/>
<path d="M764.7 562.9h0" stroke="#000080"/>
<path d="M351.4 920.1h0" stroke="#0066ff"/>
<path d="M268.9 992.2h0M641.8 576.9h0" stroke="#000080"/>
<path d="M664.6 650.4h0" stroke="#0000ff"/>
<path d="M732.8 586h0M737 504.1h0" stroke="#000080"/>
<path d="M419.6 870.6h0" stroke="#0000cc"/>
<path d="M302.2 918.3h0" stroke="#0000ff"/>
<path d="M571.2 650.8h0" stroke="#000080"/>
<path d="M581.1 728.1h0" stroke="#0000cc"/>
<path d="M182.2 1049.8h0" stroke="#0033ff"/>
<path d="M217.4 1033.5h0" stroke="#0000cc"/>
<path d="M464.7 749.1h0" stroke="#000080"/>
<path d="M393.1 885.3h0" stroke="#0066ff"/>
<path d="M784.4 536h0M695.8 544.8h0M768.2 538.8h0M519 673h0M320.6 890.9h0" stroke="#000080"/>
<path d="M797 513.2h0" stroke="#0000cc"/>
<path d="M445 761.8h0M495.5 716.2h0" stroke="#000080"/>
<path d="M220.3 1009.7h0" stroke="#00ccff"/>
<path d="M384.5 826.8h0M257 966.7h0" stroke="#0000cc"/>
<path d="M498.8 717.1h0" stroke="#000080"/>
<path d="M809.8 515.4h0" stroke="#0000cc"/>
<path d="M402 804.6h0" stroke="#000080"/>
<path d="M340.6 935.9h0" stroke="#0000cc"/>
<path d="M766.9 494h0" stroke="#0000ff"/>
<path d="M188.3 1056.2h0" stroke="#0000cc"/>
<path d="M474.2 826.3h0" stroke="#0000ff"/>
<path d="M770.6 530.8h0" stroke="#0000cc"/>
<path d="M255.4 1000.6h0" stroke="#0033ff"/>
<path d="M724.4 522.5h0M482.8 847.8h0" stroke="#000080"/>
<path d="M177 1064.1h0" stroke="#0066ff"/>
<path d="M777.7 497.7h0" stroke="#000080"/>
<path d="M229.8 1022.1h0" stroke="#0000ff"/>
<path d="M221.9 1029.1h0" stroke="#0033ff"/>
<path d="M190.4 1054.3h0" stroke="#0000cc"/>
<path d="M610.7 697.8h0" stroke="#0000ff"/>
<path d="M245 1009.8h0" stroke="#0033ff"/>
<path d="M490.1 720.1h0" stroke="#000080"/>
<path d="M753.3 561.8h0M710.7 533.5h0M313 903.1h0" stroke="#0000cc"/>
<path d="M822.8 459.1h0" stroke="#000080"/>
<path d="M380.2 898.6h0" stroke="#0033ff"/>
<path d="M525.6 683.1h0M538.9 674.1h0" stroke="#000080"/>
<path d="M221.9 1028.4h0" stroke="#0033ff"/>
<path d="M539.2 680.2h0M749.7 586.6h0M755.7 438.4h0" stroke="#000080"/>
<path d="M296.5 926.9h0" stroke="#0066ff"/>
<path d="M650.2 664.2h0M563.4 754h0" stroke="#0000cc"/>
<path d="M207.3 1021.9h0" stroke="#0000ff"/>
<path d="M557.5 666h0" stroke="#0000cc"/>
<path d="M788.4 488.4h0M375.6 901h0" stroke="#0000ff"/>
<path d="M271.1 955.2h0M487.5 808.1h0" stroke="#0066ff"/>
<path d="M805.3 456.1h0" stroke="#0000cc"/>
<path d="M778.9 551.2h0M817.2 493.8h0" stroke="#000080"/>
<path d="M461.5 832.8h0" stroke="#0033ff"/>
<path d="M539.6 767.9h0" stroke="#0000cc"/>
<path d="M183.7 1048.1h0" stroke="#0033ff"/>
<path d="M206.1 1043.2h0" stroke="#000080"/>
<path d="M709.4 534.2h0" stroke="#0000cc"/>
<path d="M252.4 974.9h0" stroke="#0033ff"/>
<path d="M262.8 992.8h0" stroke="#00ccff"/>
<path d="M777.5 531.6h0" stroke="#0000cc"/>
<path d="M424.3 779.9h0M503.9 716.6h0" stroke="#000080"/>
<path d="M466 750.6h0" stroke="#0000ff"/>
<path d="M511.9 787.4h0" stroke="#0033ff"/>
<path d="M415.6 791.8h0" stroke="#0000cc"/>
<path d="M604.5 621.4h0" stroke="#000080"/>
<path d="M193.2 1036.6h0" stroke="#0000cc"/>
<path d="M636.6 682.2h0M360.8 844.7h0" stroke="#000080"/>
<path d="M580.3 724.8h0" stroke="#0066ff"/>
<path d="M766.1 538.7h0" stroke="#0000cc"/>
<path d="M502.2 798.9h0" stroke="#0000ff"/>
<path d="M520.8 695.8h0" stroke="#0000cc"/>
<path d="M366.1 845.1h0" stroke="#000080"/>
<path d="M553.8 754h0" stroke="#0000ff"/>
<path d="M483.5 808.9h0M185.7 1056.9h0" stroke="#0099ff"/>
<path d="M718.1 608.6h0" stroke="#0000cc"/>
<path d="M766 563.1h0M762.6 474.8h0" stroke="#000080"/>
<path d="M551.8 673.5h0" stroke="#0000ff"/>
<path d="M781.6 527.5h0M302.6 973.1h0" stroke="#000080"/>
<path d="M323.4 946h0" stroke="#0033ff"/>
<path d="M241.8 1016.2h0M557.4 648.2h0M774.7 488.8h0M803.1 474.7h0" stroke="#000080"/>
<path d="M443.1 850.3h0" stroke="#0000cc"/>
<path d="M635.9 587.4h0M445.2 763.8h0M796 490.7h0" stroke="#000080"/>
<path d="M206.1 1024.6h0" stroke="#0066ff"/>
<path d="M451 769.1h0" stroke="#0000cc"/>
<path d="M492.4 804.4h0" stroke="#0033ff"/>
<path d="M226.3 1025.3h0" stroke="#0000ff"/>
<path d="M248.9 1006.7h0" stroke="#0000cc"/>
<path d="M756.9 494.2h0" stroke="#000080"/>
<path d="M376.2 897.6h0" stroke="#00ffff"/>
<path d="M204.7 1027.7h0" stroke="#33ffcc"/>
<path d="M188.9 1040.7h0" stroke="#0000cc"/>
<path d="M574.6 733.6h0" stroke="#0000ff"/>
<path d="M542.8 763.6h0" stroke="#0000cc"/>
<path d="M435.4 773.2h0" stroke="#000080"/>
<path d="M335.7 936.4h0M385.9 893.3h0" stroke="#0000ff"/>
<path d="M289.1 930.7h0" stroke="#0000cc"/>
<path d="M196.7 1048.3h0" stroke="#0033ff"/>
<path d="M458.4 836.5h0" stroke="#0000ff"/>
<path d="M811.1 424.6h0M788.5 470h0" stroke="#000080"/>
<path d="M181.2 1053.5h0" stroke="#00ffff"/>
<path d="M237.5 1017.3h0" stroke="#0000cc"/>
<path d="M248.6 1004.8h0" stroke="#00ccff"/>
<path d="M580.7 723.5h0" stroke="#0000ff"/>
<path d="M766.7 561.1h0M504.8 714.3h0" stroke="#0000cc"/>
<path d="M188.6 1053.8h0" stroke="#00ccff"/>
<path d="M574.2 727.2h0" stroke="#0066ff"/>
<path d="M782.4 522.1h0" stroke="#000080"/>
<path d="M399.7 880.8h0" stroke="#0033ff"/>
<path d="M390.4 813.3h0" stroke="#000080"/>
<path d="M630.4 675.8h0" stroke="#0033ff"/>
<path d="M571.5 726.5h0" stroke="#0000ff"/>
<path d="M504.7 796.1h0" stroke="#0066ff"/>
<path d="M613.5 733.7h0M487.3 725.1h0M558.8 654.9h0" stroke="#000080"/>
<path d="M764.2 498.7h0" stroke="#0000cc"/>
<path d="M551.7 747.8h0" stroke="#0066ff"/>
<path d="M276.3 946.7h0" stroke="#0000ff"/>
<path d="M390.5 823.2h0" stroke="#0033ff"/>
<path d="M652.6 656h0" stroke="#0000ff"/>
<path d="M708 606.4h0" stroke="#0000cc"/>
<path d="M327.9 894.1h0" stroke="#0099ff"/>
<path d="M366.6 907h0" stroke="#00ccff"/>
<path d="M602.4 701.9h0" stroke="#0033ff"/>
<path d="M806.2 507.5h0" stroke="#000080"/>
<path d="M643 592.5h0" stroke="#0000cc"/>
<path d="M506.9 789.7h0" stroke="#0033ff"/>
<path d="M643 594.8h0" stroke="#000080"/>
<path d="M776.4 519.7h0" stroke="#0000cc"/>
<path d="M517 702.8h0" stroke="#000080"/>
<path d="M551.1 758.1h0M655.3 599.4h0" stroke="#0000cc"/>
<path d="M243 980h0M486 733.8h0M591.7 628.3h0M403 807.3h0" stroke="#000080"/>
<path d="M767.9 524.2h0M778.5 497.8h0M783.7 478.6h0" stroke="#0000cc"/>
<path d="M680.1 556.4h0M791.5 438.7h0" stroke="#000080"/>
<path d="M438.2 776.6h0M447.8 773.7h0" stroke="#0000ff"/>
<path d="M804 485.9h0M540.7 678.7h0" stroke="#000080"/>
<path d="M330.9 885.4h0" stroke="#0000cc"/>
<path d="M689.7 630.9h0M816.6 477.3h0" stroke="#000080"/>
<path d="M647.7 664.9h0" stroke="#0000ff"/>
<path d="M599.9 625.9h0" stroke="#000080"/>
<path d="M484.7 741h0" stroke="#0000ff"/>
<path d="M523.7 772.9h0" stroke="#0099ff"/>
<path d="M649.4 578.3h0M546.3 671.5h0M783.2 477.7h0" stroke="#000080"/>
<path d="M765.2 539h0" stroke="#0000cc"/>
<path d="M537.2 760.7h0" stroke="#0066ff"/>
<path d="M197.6 1032.9h0" stroke="#0033ff"/>
<path d="M235.1 1016.6h0" stroke="#0099ff"/>
<path d="M405.8 811.7h0" stroke="#0000ff"/>
<path d="M329.9 890.6h0" stroke="#0099ff"/>
<path d="M450.5 772.4h0" stroke="#0000ff"/>
<path d="M426.3 859h0" stroke="#0099ff"/>
<path d="M627.8 606.9h0" stroke="#0000ff"/>
<path d="M817.8 474.8h0M747 573.7h0" stroke="#0000cc"/>
<path d="M823.6 511.6h0" stroke="#000080"/>
<path d="M390.3 886.6h0" stroke="#00ccff"/>
<path d="M608.7 619.9h0M736.5 578.3h0M768.2 491h0M788.1 472.8h0" stroke="#000080"/>
<path d="M410.4 876.7h0" stroke="#0000cc"/>
<path d="M229.8 1021.5h0" stroke="#0066ff"/>
<path d="M482.6 813h0" stroke="#0033ff"/>
<path d="M657.9 568.7h0M673.1 554.7h0" stroke="#000080"/>
<path d="M549.3 749.8h0" stroke="#0099ff"/>
<path d="M475.1 722.2h0M686.9 546.8h0" stroke="#000080"/>
<path d="M673.2 636.1h0" stroke="#0000ff"/>
<path d="M293.6 969.8h0" stroke="#0066ff"/>
<path d="M194 1049.2h0" stroke="#00ccff"/>
<path d="M821.8 502.4h0" stroke="#000080"/>
<path d="M632.7 594.6h0" stroke="#0000cc"/>
<path d="M388.1 886.7h0" stroke="#00ccff"/>
<path d="M408.7 811.5h0" stroke="#0066ff"/>
<path d="M590.2 717.6h0" stroke="#0000ff"/>
<path d="M764.7 503.9h0M766.9 560.3h0M558.6 661.7h0" stroke="#000080"/>
<path d="M193.6 1037.2h0" stroke="#0066ff"/>
<path d="M765.9 487.4h0" stroke="#000080"/>
<path d="M313.3 958.3h0" stroke="#0000cc"/>
<path d="M594.7 627.9h0" stroke="#000080"/>
<path d="M547.6 758.8h0" stroke="#0033ff"/>
<path d="M452.8 759.1h0" stroke="#000080"/>
<path d="M588.9 724.8h0M454 765.1h0" stroke="#0000cc"/>
<path d="M397.7 883.6h0" stroke="#0000ff"/>
<path d="M730.1 522.9h0" stroke="#000080"/>
<path d="M294.1 928.8h0" stroke="#0033ff"/>
<path d="M419.4 790.3h0M619 611.9h0" stroke="#000080"/>
<path d="M302.1 964.3h0" stroke="#0000ff"/>
<path d="M811.2 445.2h0" stroke="#000080"/>
<path d="M639.5 599.4h0" stroke="#0000cc"/>
<path d="M328.3 894.7h0" stroke="#00ccff"/>
<path d="M796.8 509.2h0" stroke="#000080"/>
<path d="M539.7 686.6h0" stroke="#0000cc"/>
<path d="M187.7 1054.7h0" stroke="#00ccff"/>
<path d="M576.8 652.7h0" stroke="#0000cc"/>
<path d="M687.4 600.9h0" stroke="#0000ff"/>
<path d="M796.8 481.5h0" stroke="#000080"/>
<path d="M618.4 616.1h0" stroke="#0000cc"/>
<path d="M325.5 941.3h0" stroke="#00ffff"/>
<path d="M587.7 636.9h0M627.1 609.4h0" stroke="#0000cc"/>
<path d="M771.6 478.3h0" stroke="#000080"/>
<path d="M650.4 658.5h0" stroke="#0000cc"/>
<path d="M190.3 1051.3h0" stroke="#66ff99"/>
<path d="M476.4 730h0" stroke="#000080"/>
<path d="M811.9 482.8h0" stroke="#0000cc"/>
<path d="M626.5 669.4h0" stroke="#0000ff"/>
<path d="M744.8 579.4h0M808.2 471.2h0" stroke="#000080"/>
<path d="M343.6 930.9h0" stroke="#0000ff"/>
<path d="M540.1 753.4h0" stroke="#0066ff"/>
<path d="M625.2 693h0" stroke="#0000ff"/>
<path d="M548.8 744.9h0" stroke="#0099ff"/>
<path d="M397.1 808.1h0" stroke="#0000cc"/>
<path d="M201.2 1045.2h0" stroke="#0000ff"/>
<path d="M501.7 792.2h0" stroke="#0066ff"/>
<path d="M796.2 472.1h0" stroke="#0000cc"/>
<path d="M788.3 521.5h0M324.2 952.5h0M410.5 796h0" stroke="#000080"/>
<path d="M735.2 571.3h0M771.7 505.3h0M752.4 568h0" stroke="#0000cc"/>
<path d="M374.3 900.4h0" stroke="#0066ff"/>
<path d="M770.1 472h0" stroke="#000080"/>
<path d="M346.1 924.6h0" stroke="#0099ff"/>
<path d="M817.6 450.1h0" stroke="#000080"/>
<path d="M720.9 527.6h0" stroke="#0000cc"/>
<path d="M732.3 593h0" stroke="#000080"/>
<path d="M688.8 626.7h0" stroke="#0000cc"/>
<path d="M692.6 573.6h0M685.5 557.6h0" stroke="#0000ff"/>
<path d="M677.3 567.5h0M686.5 551.4h0M606.2 732h0" stroke="#000080"/>
<path d="M773.1 521h0" stroke="#0000cc"/>
<path d="M219.1 1030.3h0" stroke="#0099ff"/>
<path d="M455.8 764.9h0" stroke="#0000cc"/>
<path d="M782 450.8h0" stroke="#000080"/>
<path d="M685.2 639.8h0" stroke="#0000cc"/>
<path d="M775.5 534.7h0" stroke="#000080"/>
<path d="M198.9 1046.2h0" stroke="#0099ff"/>
<path d="M766 518.4h0" stroke="#0000cc"/>
<path d="M786.8 546.5h0" stroke="#000080"/>
<path d="M533.9 764.6h0" stroke="#0000ff"/>
<path d="M810.3 491.4h0" stroke="#0000cc"/>
<path d="M419.3 791h0M706.6 538.2h0" stroke="#000080"/>
<path d="M272.4 951.3h0" stroke="#0000cc"/>
<path d="M192 1039.7h0" stroke="#0066ff"/>
<path d="M458.5 753.9h0M469.5 739.3h0" stroke="#000080"/>
<path d="M289.6 935.8h0" stroke="#0099ff"/>
<path d="M777.2 477.3h0" stroke="#000080"/>
<path d="M594.2 712.7h0" stroke="#0033ff"/>
<path d="M672.7 634.8h0" stroke="#0000ff"/>
<path d="M263.9 991.6h0" stroke="#00ffff"/>
<path d="M697.1 547h0" stroke="#0000cc"/>
<path d="M464.5 735.3h0" stroke="#000080"/>
<path d="M245 1006.3h0" stroke="#99ff66"/>
<path d="M460.2 765.4h0" stroke="#0000ff"/>
<path d="M480.1 817h0" stroke="#0033ff"/>
<path d="M456.4 769.2h0" stroke="#0000ff"/>
<path d="M571.6 724.9h0" stroke="#0066ff"/>
<path d="M531.9 693.6h0" stroke="#0000ff"/>
<path d="M620.3 621.6h0" stroke="#0000cc"/>
<path d="M729.6 513.9h0" stroke="#000080"/>
<path d="M818 456.7h0" stroke="#0000cc"/>
<path d="M471.6 824.2h0" stroke="#0033ff"/>
<path d="M730.9 582.3h0" stroke="#0000ff"/>
<path d="M752.5 525.9h0" stroke="#0000cc"/>
<path d="M396.3 880.3h0" stroke="#00ccff"/>
<path d="M514.8 708.4h0M455.2 769.3h0" stroke="#0000ff"/>
<path d="M728.9 583.3h0" stroke="#0000cc"/>
<path d="M481.5 810.3h0" stroke="#0066ff"/>
<path d="M516.6 786.6h0" stroke="#0033ff"/>
<path d="M690.8 554.1h0" stroke="#0000cc"/>
<path d="M737.6 569h0" stroke="#0000ff"/>
<path d="M478.3 817.5h0" stroke="#0066ff"/>
<path d="M774.5 535.2h0" stroke="#000080"/>
<path d="M467.1 821.1h0" stroke="#0099ff"/>
<path d="M642.1 656.7h0" stroke="#0000ff"/>
<path d="M545.4 753.1h0" stroke="#0066ff"/>
<path d="M797.4 501.6h0" stroke="#000080"/>
<path d="M756.4 517.5h0" stroke="#0000ff"/>
<path d="M573.5 738.2h0" stroke="#0000cc"/>
<path d="M477.2 749h0" stroke="#0000ff"/>
<path d="M637.2 600.6h0" stroke="#0000cc"/>
<path d="M797.4 465.7h0" stroke="#000080"/>
<path d="M433.8 856.3h0" stroke="#0033ff"/>
<path d="M514.9 703.4h0" stroke="#000080"/>
<path d="M361.4 909.7h0" stroke="#00ffff"/>
<path d="M186 1054.4h0" stroke="#33ffcc"/>
<path d="M496.9 724.2h0" stroke="#0000cc"/>
<path d="M425.5 782.9h0" stroke="#000080"/>
<path d="M658.6 599.7h0" stroke="#0000cc"/>
<path d="M491.9 730.3h0" stroke="#000080"/>
<path d="M793.7 492.9h0" stroke="#0000cc"/>
<path d="M590.3 712.1h0" stroke="#0000ff"/>
<path d="M240.8 1015.6h0" stroke="#000080"/>
<path d="M782.6 501.5h0M649.1 658.1h0" stroke="#0000cc"/>
<path d="M437.6 850.6h0" stroke="#0033ff"/>
<path d="M482.7 814.8h0M711.5 590.6h0M689.3 621.1h0M721.7 558.1h0" stroke="#0000ff"/>
<path d="M698.9 553.5h0" stroke="#0000cc"/>
<path d="M783.3 549.9h0" stroke="#000080"/>
<path d="M616 701h0" stroke="#0000cc"/>
<path d="M544 682.4h0M626.3 690.1h0" stroke="#0000ff"/>
<path d="M783.9 534h0" stroke="#000080"/>
<path d="M740.6 568.5h0" stroke="#0000cc"/>
<path d="M483.4 745.5h0" stroke="#0033ff"/>
<path d="M723.6 590.6h0" stroke="#0000ff"/>
<path d="M411.1 871.6h0" stroke="#0066ff"/>
<path d="M719.7 553.3h0" stroke="#0000cc"/>
<path d="M453.9 770.5h0" stroke="#0033ff"/>
<path d="M810 461.5h0" stroke="#000080"/>
<path d="M504 740h0" stroke="#0099ff"/>
<path d="M304.8 963.6h0" stroke="#0000cc"/>
<path d="M258.6 997.9h0" stroke="#0000ff"/>
<path d="M371 841.6h0M776.7 536.2h0" stroke="#000080"/>
<path d="M797.2 495.2h0" stroke="#0000cc"/>
<path d="M284.3 981.3h0" stroke="#000080"/>
<path d="M766.4 559.5h0" stroke="#0000cc"/>
<path d="M496.6 801.6h0" stroke="#0000ff"/>
<path d="M777.8 478.8h0" stroke="#000080"/>
<path d="M544.3 743.9h0" stroke="#00ccff"/>
<path d="M495 727.8h0" stroke="#0000cc"/>
<path d="M504.6 788.7h0" stroke="#0066ff"/>
<path d="M759.5 549.5h0" stroke="#000080"/>
<path d="M664.9 644.8h0" stroke="#0000ff"/>
<path d="M613.7 693h0M620.3 660.2h0" stroke="#0033ff"/>
<path d="M796.5 468.7h0" stroke="#000080"/>
<path d="M685.6 595.4h0" stroke="#0033ff"/>
<path d="M605.5 625.3h0" stroke="#000080"/>
<path d="M718.8 545.3h0" stroke="#0000cc"/>
<path d="M275.7 980.8h0" stroke="#99ff66"/>
<path d="M778.8 513.5h0" stroke="#0000ff"/>
<path d="M508.8 691.8h0M508.6 712.4h0" stroke="#000080"/>
<path d="M647.2 656.2h0" stroke="#0000cc"/>
<path d="M254.9 972.1h0" stroke="#0033ff"/>
<path d="M337.2 876.5h0" stroke="#0000cc"/>
<path d="M331.7 879.2h0" stroke="#000080"/>
<path d="M682.9 565.8h0" stroke="#0000cc"/>
<path d="M351.7 866.9h0" stroke="#0000ff"/>
<path d="M618.8 688.4h0" stroke="#0033ff"/>
<path d="M471 831.5h0" stroke="#0000cc"/>
<path d="M211.6 1037.6h0" stroke="#0000ff"/>
<path d="M541.5 709.4h0" stroke="#0066ff"/>
<path d="M757.5 527.7h0" stroke="#0000ff"/>
<path d="M204 1043h0" stroke="#0033ff"/>
<path d="M365.1 849h0" stroke="#0000cc"/>
<path d="M598.9 653h0" stroke="#0033ff"/>
<path d="M294.4 934.5h0" stroke="#66ff99"/>
<path d="M336.7 888.6h0" stroke="#33ffcc"/>
<path d="M564.6 728.4h0" stroke="#0033ff"/>
<path d="M538.8 751.4h0" stroke="#0099ff"/>
<path d="M296.8 929.9h0" stroke="#33ffcc"/>
<path d="M339.8 931.4h0" stroke="#0033ff"/>
<path d="M524.2 700.2h0M658.2 590.9h0M782.6 507.1h0M714.8 544.2h0" stroke="#0000cc"/>
<path d="M414.1 868.8h0" stroke="#0099ff"/>
<path d="M823.6 469.6h0M411.8 800.6h0" stroke="#000080"/>
<path d="M373.4 902.4h0" stroke="#0066ff"/>
<path d="M302.2 920.8h0" stroke="#0099ff"/>
<path d="M655.1 583.2h0M354.7 851.6h0M729.1 504.6h0" stroke="#000080"/>
<path d="M184.4 1056.3h0M211.6 1019.7h0" stroke="#33ffcc"/>
<path d="M640.9 617.8h0" stroke="#0000ff"/>
<path d="M740.4 512.2h0" stroke="#000080"/>
<path d="M418.8 797.4h0" stroke="#0000ff"/>
<path d="M423.6 785.9h0" stroke="#000080"/>
<path d="M418.2 809.5h0" stroke="#0099ff"/>
<path d="M498.1 797.6h0" stroke="#0033ff"/>
<path d="M651.5 655.6h0" stroke="#0000ff"/>
<path d="M818.3 469.5h0" stroke="#000080"/>
<path d="M688.4 633.6h0" stroke="#0000cc"/>
<path d="M537.3 727h0" stroke="#0099ff"/>
<path d="M619.1 681h0" stroke="#0033ff"/>
<path d="M559 744.5h0" stroke="#0066ff"/>
<path d="M189.1 1041.9h0" stroke="#0033ff"/>
<path d="M639.8 669.5h0" stroke="#0000ff"/>
<path d="M392.2 882.2h0" stroke="#00ffff"/>
<path d="M569.5 725.7h0" stroke="#0066ff"/>
<path d="M628.3 629h0M454.3 771.9h0" stroke="#0033ff"/>
<path d="M614.6 691h0" stroke="#0000ff"/>
<path d="M339.6 878.5h0" stroke="#0000cc"/>
<path d="M504.1 721.6h0" stroke="#0000ff"/>
<path d="M328.4 896.2h0M282.6 976.3h0" stroke="#00ffff"/>
<path d="M361.4 857.4h0" stroke="#0066ff"/>
<path d="M708.7 600.1h0" stroke="#0000cc"/>
<path d="M806.1 439.8h0" stroke="#000080"/>
<path d="M746.1 533.8h0" stroke="#0000cc"/>
<path d="M229.4 1021.5h0" stroke="#0099ff"/>
<path d="M752.2 497.7h0M725.3 552.2h0" stroke="#0000cc"/>
<path d="M582.2 697.2h0" stroke="#0066ff"/>
<path d="M449.9 843.1h0M574.7 664.5h0" stroke="#0033ff"/>
<path d="M261.9 992.3h0" stroke="#66ff99"/>
<path d="M221.3 1027.6h0" stroke="#0099ff"/>
<path d="M585.1 688.3h0" stroke="#0033ff"/>
<path d="M300.1 930.5h0" stroke="#ffcc00"/>
<path d="M464.5 828.4h0M467.6 824.3h0" stroke="#0066ff"/>
<path d="M762.7 519.6h0" stroke="#0000ff"/>
<path d="M649.8 611.6h0" stroke="#0033ff"/>
<path d="M520.6 766.4h0" stroke="#0099ff"/>
<path d="M382.3 893.5h0" stroke="#00ccff"/>
<path d="M631.9 600.2h0" stroke="#0000cc"/>
<path d="M682.5 606.7h0" stroke="#0033ff"/>
<path d="M539.1 687.8h0" stroke="#0000cc"/>
<path d="M711 509.8h0" stroke="#000080"/>
<path d="M387.3 828.2h0" stroke="#0000ff"/>
<path d="M517.5 767.5h0" stroke="#0099ff"/>
<path d="M704.9 546h0" stroke="#0000cc"/>
<path d="M469.5 809.1h0" stroke="#00ccff"/>
<path d="M430.3 778.2h0" stroke="#0000cc"/>
<path d="M374.3 893.9h0" stroke="#ccff33"/>
<path d="M599.7 659.1h0" stroke="#0033ff"/>
<path d="M691.5 618.3h0" stroke="#0000cc"/>
<path d="M297.9 964.9h0" stroke="#00ccff"/>
<path d="M536.7 750.6h0" stroke="#0099ff"/>
<path d="M640.5 670.7h0" stroke="#0000cc"/>
<path d="M639.2 672.8h0" stroke="#0033ff"/>
<path d="M654.7 646.9h0" stroke="#0000ff"/>
<path d="M353.1 917.5h0" stroke="#00ffff"/>
<path d="M426.8 782.1h0" stroke="#000080"/>
<path d="M519.7 717.7h0" stroke="#0000ff"/>
<path d="M294.8 967.2h0" stroke="#00ccff"/>
<path d="M648.5 674.6h0" stroke="#000080"/>
<path d="M492.5 794.3h0" stroke="#00ccff"/>
<path d="M469.4 747.8h0M706.5 615.3h0" stroke="#000080"/>
<path d="M330.3 890.7h0" stroke="#0066ff"/>
<path d="M282.1 941.1h0M574.3 723.5h0" stroke="#0000ff"/>
<path d="M686.8 592.3h0" stroke="#0033ff"/>
<path d="M440.6 774.7h0" stroke="#0000cc"/>
<path d="M728.5 551h0" stroke="#0000ff"/>
<path d="M552.9 737.7h0" stroke="#0066ff"/>
<path d="M636 613.6h0" stroke="#0000ff"/>
<path d="M655.2 571.6h0" stroke="#000080"/>
<path d="M533.5 756.5h0" stroke="#0099ff"/>
<path d="M607.9 624.6h0M750.5 569.9h0" stroke="#000080"/>
<path d="M430.1 857.5h0" stroke="#0033ff"/>
<path d="M691.2 590h0" stroke="#0000cc"/>
<path d="M759.3 500.5h0M800.1 496.3h0" stroke="#000080"/>
<path d="M719.3 579.2h0M567.8 661h0" stroke="#0000cc"/>
<path d="M344.1 868.7h0" stroke="#000080"/>
<path d="M195.3 1037.4h0" stroke="#00ccff"/>
<path d="M613 630.8h0" stroke="#0000cc"/>
<path d="M382.2 888.1h0" stroke="#99ff66"/>
<path d="M747.1 529.3h0" stroke="#0033ff"/>
<path d="M520.7 790.5h0M745.2 545.1h0" stroke="#0000cc"/>
<path d="M643.9 601.4h0" stroke="#000080"/>
<path d="M561.8 739.2h0M422.2 801.2h0" stroke="#0033ff"/>
<path d="M723.7 588.4h0M716.7 537.4h0" stroke="#0000cc"/>
<path d="M387.1 883.7h0" stroke="#99ff66"/>
<path d="M600.1 702.8h0" stroke="#0000ff"/>
<path d="M196.5 1047.3h0" stroke="#00ffff"/>
<path d="M175.3 1064.1h0" stroke="#33ffcc"/>
<path d="M519.3 775.3h0" stroke="#0066ff"/>
<path d="M418.8 794.5h0" stroke="#000080"/>
<path d="M343.1 927.2h0" stroke="#0099ff"/>
<path d="M706.8 605.1h0" stroke="#0000cc"/>
<path d="M569.3 715.9h0" stroke="#0099ff"/>
<path d="M529.8 702.1h0" stroke="#0000cc"/>
<path d="M805 501.1h0" stroke="#000080"/>
<path d="M543.5 741.2h0" stroke="#0099ff"/>
<path d="M602.5 722h0" stroke="#000080"/>
<path d="M697.7 558.2h0M747 528.5h0M625.6 617.3h0" stroke="#0000cc"/>
<path d="M685.3 614.3h0" stroke="#0000ff"/>
<path d="M374.5 837.8h0" stroke="#0000cc"/>
<path d="M766.3 511.3h0" stroke="#000080"/>
<path d="M215.1 1015h0" stroke="#0099ff"/>
<path d="M722.7 529h0" stroke="#000080"/>
<path d="M175.2 1060.8h0" stroke="#00ccff"/>
<path d="M438.1 782.8h0" stroke="#0000ff"/>
<path d="M252.9 999.6h0" stroke="#66ff99"/>
<path d="M622 624.4h0" stroke="#0000ff"/>
<path d="M804 487.9h0" stroke="#0000cc"/>
<path d="M423.6 796.2h0" stroke="#0033ff"/>
<path d="M482.2 748.6h0" stroke="#0000ff"/>
<path d="M480.6 810.1h0" stroke="#0099ff"/>
<path d="M808.8 473.8h0" stroke="#0000cc"/>
<path d="M811.7 433.2h0" stroke="#000080"/>
<path d="M678.5 631h0" stroke="#0000ff"/>
<path d="M662.8 584.8h0" stroke="#000080"/>
<path d="M378.5 887h0" stroke="#ffff00"/>
<path d="M557.8 696.2h0" stroke="#0099ff"/>
<path d="M176.2 1057.9h0" stroke="#00ccff"/>
<path d="M486.6 739.9h0" stroke="#0000cc"/>
<path d="M528.5 688.8h0" stroke="#000080"/>
<path d="M602.5 634.6h0" stroke="#0000ff"/>
<path d="M759.2 552.4h0" stroke="#0000cc"/>
<path d="M722.3 579.7h0" stroke="#0000ff"/>
<path d="M726.2 536.7h0" stroke="#0000cc"/>
<path d="M471.2 800.1h0M472.6 796.6h0" stroke="#00ffff"/>
<path d="M732.8 531h0" stroke="#0000ff"/>
<path d="M554.7 688.6h0" stroke="#0066ff"/>
<path d="M294.5 966.5h0" stroke="#66ff99"/>
<path d="M198.3 1044.7h0" stroke="#99ff66"/>
<path d="M718.9 542.4h0" stroke="#000080"/>
<path d="M286.5 942.7h0" stroke="#99ff66"/>
<path d="M671.1 603.9h0" stroke="#0033ff"/>
<path d="M814 425.4h0" stroke="#000080"/>
<path d="M682.2 590.5h0" stroke="#0033ff"/>
<path d="M753.7 560.6h0" stroke="#0000cc"/>
<path d="M588.7 713.7h0M581.5 662.4h0" stroke="#0033ff"/>
<path d="M563 727.7h0" stroke="#0099ff"/>
<path d="M722.1 535.3h0" stroke="#000080"/>
<path d="M641 654.5h0" stroke="#0000ff"/>
<path d="M562.1 736.6h0" stroke="#0033ff"/>
<path d="M455.6 791.1h0" stroke="#33ffcc"/>
<path d="M633 622h0" stroke="#0033ff"/>
<path d="M660.5 614.2h0" stroke="#0000ff"/>
<path d="M526.4 734.5h0" stroke="#00ccff"/>
<path d="M761.5 506.1h0" stroke="#0000cc"/>
<path d="M674.6 614.4h0" stroke="#0000ff"/>
<path d="M295.3 964.3h0" stroke="#99ff66"/>
<path d="M628.3 635.5h0M700.7 612.2h0" stroke="#0000cc"/>
<path d="M783.9 519.4h0" stroke="#0033ff"/>
<path d="M296.2 963.7h0" stroke="#99ff66"/>
<path d="M567.9 665.2h0" stroke="#0000cc"/>
<path d="M373.3 892.5h0" stroke="#ffcc00"/>
<path d="M737.3 559.4h0" stroke="#0000cc"/>
<path d="M800.5 488.8h0" stroke="#000080"/>
<path d="M632.1 643.1h0" stroke="#0033ff"/>
<path d="M669.1 578.9h0M511.4 716.5h0" stroke="#0000cc"/>
<path d="M591.4 682.6h0" stroke="#0066ff"/>
<path d="M708.7 575.6h0" stroke="#0000ff"/>
<path d="M635.8 636.1h0" stroke="#0066ff"/>
<path d="M647 611.2h0" stroke="#0000ff"/>
<path d="M736.3 562.6h0M750.3 546h0" stroke="#0000cc"/>
<path d="M753.7 513.6h0" stroke="#000080"/>
<path d="M693.9 575.9h0" stroke="#0000ff"/>
<path d="M340.8 879.4h0" stroke="#0099ff"/>
<path d="M825.2 440.9h0" stroke="#0000cc"/>
<path d="M649.7 624.3h0M722.4 569.9h0" stroke="#0000ff"/>
<path d="M411.5 866.5h0" stroke="#00ffff"/>
<path d="M745.6 515.6h0" stroke="#0000cc"/>
<path d="M647.8 650h0" stroke="#0033ff"/>
<path d="M592.8 693.1h0M544.1 731.1h0" stroke="#0066ff"/>
<path d="M632.6 645.6h0M545.6 694.2h0" stroke="#0033ff"/>
<path d="M672.5 585.9h0" stroke="#0000ff"/>
<path d="M397.4 878.3h0" stroke="#00ffff"/>
<path d="M619.5 643.3h0" stroke="#0033ff"/>
<path d="M510 736.6h0" stroke="#0099ff"/>
<path d="M270.4 989.4h0" stroke="#0000ff"/>
<path d="M595 702.4h0" stroke="#0066ff"/>
<path d="M372.5 895.8h0" stroke="#99ff66"/>
<path d="M229.7 996.9h0" stroke="#0000cc"/>
<path d="M760.9 527.3h0" stroke="#0033ff"/>
<path d="M262.4 991.3h0" stroke="#99ff66"/>
<path d="M264.3 990.5h0" stroke="#33ffcc"/>
<path d="M400.3 878.9h0" stroke="#0099ff"/>
<path d="M604.7 685.4h0M480 753.2h0" stroke="#0066ff"/>
<path d="M742.4 547.8h0" stroke="#0000ff"/>
<path d="M610.2 683.2h0M636.1 623.7h0" stroke="#0033ff"/>
<path d="M474 795.4h0M366.9 863h0" stroke="#66ff99"/>
<path d="M522.7 757.1h0" stroke="#0099ff"/>
<path d="M544.5 677.2h0" stroke="#000080"/>
<path d="M339.4 930.6h0" stroke="#0099ff"/>
<path d="M523.7 710.3h0" stroke="#0000ff"/>
<path d="M481.3 805.8h0" stroke="#00ccff"/>
<path d="M458.6 769.8h0" stroke="#0033ff"/>
<path d="M520.1 762.3h0" stroke="#00ccff"/>
<path d="M624 652.1h0" stroke="#0000ff"/>
<path d="M457.4 825.2h0" stroke="#00ccff"/>
<path d="M177.5 1061.4h0" stroke="#00ffff"/>
<path d="M487.4 764.9h0M233.6 1016.7h0" stroke="#33ffcc"/>
<path d="M661.8 653.6h0" stroke="#0000ff"/>
<path d="M615.7 666.8h0" stroke="#0066ff"/>
<path d="M685.3 585.8h0" stroke="#0000ff"/>
<path d="M489.6 772.5h0" stroke="#00ffff"/>
<path d="M600.8 676.4h0" stroke="#0066ff"/>
<path d="M379.9 829.3h0" stroke="#0000cc"/>
<path d="M627.7 664.8h0" stroke="#0033ff"/>
<path d="M513.9 767.2h0" stroke="#00ccff"/>
<path d="M635.2 605.4h0" stroke="#0000cc"/>
<path d="M298.9 935.4h0" stroke="#ff9900"/>
<path d="M185.9 1052.4h0" stroke="#66ff99"/>
<path d="M786.3 491.8h0" stroke="#000080"/>
<path d="M564.8 702.5h0" stroke="#0099ff"/>
<path d="M573.4 690.6h0" stroke="#0066ff"/>
<path d="M749.9 504.8h0" stroke="#000080"/>
<path d="M598.8 632.9h0" stroke="#0000cc"/>
<path d="M538.4 737.6h0" stroke="#00ccff"/>
<path d="M594.5 634.7h0" stroke="#0000cc"/>
<path d="M700 534.3h0" stroke="#000080"/>
<path d="M658.9 643.2h0" stroke="#0033ff"/>
<path d="M760.3 573.8h0" stroke="#000080"/>
<path d="M279 976.6h0" stroke="#ffff00"/>
<path d="M656.7 584.2h0" stroke="#0000cc"/>
<path d="M527.6 704.6h0" stroke="#0033ff"/>
<path d="M694.1 559.4h0M634.4 609.5h0" stroke="#0000cc"/>
<path d="M318.9 901.8h0M574.8 710.6h0" stroke="#0066ff"/>
<path d="M385.3 885.9h0" stroke="#33ffcc"/>
<path d="M561.2 670h0" stroke="#0000cc"/>
<path d="M373.6 888.8h0" stroke="#ff9900"/>
<path d="M434.1 824.8h0" stroke="#99ff66"/>
<path d="M672.9 622.9h0" stroke="#0033ff"/>
<path d="M647.3 590.2h0" stroke="#000080"/>
<path d="M316.3 906.3h0" stroke="#0099ff"/>
<path d="M484.4 783.7h0" stroke="#33ffcc"/>
<path d="M499.2 763.2h0" stroke="#00ffff"/>
<path d="M463.3 784.2h0" stroke="#33ffcc"/>
<path d="M563.3 684h0M672 597h0M615.1 688.9h0" stroke="#0033ff"/>
<path d="M412.6 859.5h0" stroke="#66ff99"/>
<path d="M536.5 710.2h0" stroke="#0066ff"/>
<path d="M474.4 813.1h0" stroke="#00ccff"/>
<path d="M541.2 718.6h0" stroke="#0099ff"/>
<path d="M628.9 663.3h0" stroke="#0033ff"/>
<path d="M671.2 641.1h0" stroke="#0000ff"/>
<path d="M558.5 682.9h0M694.3 606h0" stroke="#0033ff"/>
<path d="M783.1 491.2h0M547.3 677.9h0" stroke="#0000cc"/>
<path d="M768.4 505.9h0" stroke="#0000ff"/>
<path d="M317.8 946.8h0" stroke="#00ffff"/>
<path d="M309.1 910.2h0" stroke="#0033ff"/>
<path d="M242.6 982.9h0" stroke="#0000cc"/>
<path d="M208.6 1022.6h0" stroke="#00ccff"/>
<path d="M557.5 742.6h0" stroke="#0066ff"/>
<path d="M611.8 634.3h0" stroke="#0000cc"/>
<path d="M426.2 818.5h0" stroke="#99ff66"/>
<path d="M366.3 854.9h0" stroke="#0099ff"/>
<path d="M187.3 1043.5h0" stroke="#0000ff"/>
<path d="M374.2 845h0" stroke="#0066ff"/>
<path d="M671.4 630.9h0" stroke="#0000ff"/>
<path d="M741.3 500.4h0" stroke="#000080"/>
<path d="M228.9 1019.6h0" stroke="#99ff66"/>
<path d="M735 533h0M430.5 790.6h0" stroke="#0000cc"/>
<path d="M362.1 905.7h0" stroke="#99ff66"/>
<path d="M289.5 967.4h0" stroke="#ff9900"/>
<path d="M223.8 1023.8h0" stroke="#ffff00"/>
<path d="M465.6 780.8h0" stroke="#00ffff"/>
<path d="M622.4 683.9h0" stroke="#0033ff"/>
<path d="M234.1 1014.5h0" stroke="#ffff00"/>
<path d="M317.5 945.5h0" stroke="#99ff66"/>
<path d="M564.9 689.1h0" stroke="#0066ff"/>
<path d="M654.5 588.6h0" stroke="#0000ff"/>
<path d="M677.3 571.7h0M693.7 563.4h0" stroke="#0000cc"/>
<path d="M422.1 822.2h0" stroke="#ccff33"/>
<path d="M216.4 1033.1h0" stroke="#0033ff"/>
<path d="M462.6 767.7h0" stroke="#0066ff"/>
<path d="M645.1 652.8h0" stroke="#0033ff"/>
<path d="M692.9 578.5h0M701.2 616h0" stroke="#0000ff"/>
<path d="M734.9 541.3h0" stroke="#000080"/>
<path d="M687.9 629.8h0" stroke="#0000ff"/>
<path d="M191.9 1040.5h0M614.7 650.4h0" stroke="#0099ff"/>
<path d="M574 679.3h0" stroke="#0066ff"/>
<path d="M419.4 810.7h0" stroke="#00ccff"/>
<path d="M629.4 606.3h0" stroke="#0000cc"/>
<path d="M401.7 821.3h0" stroke="#0066ff"/>
<path d="M597.6 671.2h0" stroke="#0033ff"/>
<path d="M544.3 719.6h0" stroke="#0099ff"/>
<path d="M600.8 711.9h0M390.8 824.7h0" stroke="#0000ff"/>
<path d="M491.7 774.8h0M488.4 776.5h0" stroke="#00ccff"/>
<path d="M673.6 647.2h0M689.9 564.1h0" stroke="#0000cc"/>
<path d="M658.2 614.5h0M580 674.5h0" stroke="#0033ff"/>
<path d="M606 696.8h0" stroke="#0066ff"/>
<path d="M730.8 546.3h0" stroke="#0033ff"/>
<path d="M550.4 737.9h0" stroke="#0066ff"/>
<path d="M669.8 610.4h0" stroke="#0000ff"/>
<path d="M393.4 877.6h0" stroke="#66ff99"/>
<path d="M515.1 777.4h0" stroke="#0099ff"/>
<path d="M805.6 504.9h0" stroke="#000080"/>
<path d="M203.5 1042.5h0" stroke="#0099ff"/>
<path d="M717.1 584.7h0" stroke="#0000ff"/>
<path d="M514 779.2h0" stroke="#0099ff"/>
<path d="M498 775.5h0" stroke="#00ccff"/>
<path d="M422.6 859.2h0" stroke="#0099ff"/>
<path d="M501.5 762.5h0" stroke="#00ccff"/>
<path d="M413.1 822.3h0" stroke="#33ffcc"/>
<path d="M529.4 764h0" stroke="#0099ff"/>
<path d="M782 517.3h0" stroke="#0000ff"/>
<path d="M178.5 1055.8h0" stroke="#00ccff"/>
<path d="M471.1 792.1h0" stroke="#66ff99"/>
<path d="M625.5 663.5h0" stroke="#0066ff"/>
<path d="M642.3 611.6h0" stroke="#0000ff"/>
<path d="M436 802.3h0" stroke="#00ffff"/>
<path d="M542.7 702.3h0" stroke="#0066ff"/>
<path d="M245.9 1004.7h0" stroke="#ccff33"/>
<path d="M655.6 611.4h0" stroke="#0033ff"/>
<path d="M231 1016.3h0" stroke="#ffcc00"/>
<path d="M788.5 505.6h0" stroke="#000080"/>
<path d="M185.1 1046.1h0" stroke="#0000ff"/>
<path d="M524.3 713.5h0" stroke="#0033ff"/>
<path d="M466.7 805.9h0" stroke="#00ffff"/>
<path d="M681.4 575.9h0" stroke="#0000ff"/>
<path d="M215.3 1016.1h0" stroke="#00ffff"/>
<path d="M423.8 800.7h0" stroke="#0066ff"/>
<path d="M328.3 938.9h0" stroke="#00ffff"/>
<path d="M679.1 626.2h0" stroke="#0000cc"/>
<path d="M576.2 665.6h0" stroke="#0033ff"/>
<path d="M767.8 559.2h0" stroke="#000080"/>
<path d="M377.3 855.1h0" stroke="#99ff66"/>
<path d="M710.9 554.2h0" stroke="#0000cc"/>
<path d="M670.9 557.4h0" stroke="#000080"/>
<path d="M621.6 618h0" stroke="#0000cc"/>
<path d="M548.8 743h0" stroke="#0066ff"/>
<path d="M222.4 1007.5h0" stroke="#00ccff"/>
<path d="M268.1 959.4h0" stroke="#0099ff"/>
<path d="M437.2 819.3h0" stroke="#66ff99"/>
<path d="M359.7 898.7h0" stroke="#ff6600"/>
<path d="M384.6 833.9h0" stroke="#0033ff"/>
<path d="M582 642.3h0" stroke="#000080"/>
<path d="M605.4 665.9h0" stroke="#0099ff"/>
<path d="M504.6 771.8h0" stroke="#00ccff"/>
<path d="M533.2 765.9h0" stroke="#0066ff"/>
<path d="M565.4 708.6h0" stroke="#0099ff"/>
<path d="M590 687.9h0" stroke="#0033ff"/>
<path d="M499.1 786.7h0" stroke="#0099ff"/>
<path d="M716.5 544.6h0" stroke="#0000ff"/>
<path d="M587.7 659.1h0" stroke="#0033ff"/>
<path d="M491.4 776.1h0" stroke="#00ccff"/>
<path d="M788 497.3h0" stroke="#000080"/>
<path d="M570.4 702.3h0" stroke="#0066ff"/>
<path d="M589.3 647.2h0" stroke="#0000ff"/>
<path d="M761.2 544.6h0M688.8 610.2h0" stroke="#0000cc"/>
<path d="M461.8 820.4h0" stroke="#00ffff"/>
<path d="M620.4 672.5h0M665.3 637.1h0M684 632.6h0" stroke="#0033ff"/>
<path d="M347.8 922.4h0" stroke="#00ccff"/>
<path d="M686.4 582.8h0" stroke="#0000ff"/>
<path d="M710.7 571.7h0" stroke="#0000cc"/>
<path d="M365.3 904.4h0" stroke="#66ff99"/>
<path d="M352.2 896.9h0" stroke="#ff0000"/>
<path d="M352.1 902h0" stroke="#ff6600"/>
<path d="M258.1 970.2h0" stroke="#0066ff"/>
<path d="M482.9 774.5h0" stroke="#00ffff"/>
<path d="M545.2 720.8h0" stroke="#0033ff"/>
<path d="M660.1 602.6h0" stroke="#0000ff"/>
<path d="M771.3 509.7h0M604.3 627.9h0" stroke="#0000cc"/>
<path d="M276.9 973.2h0" stroke="#ff0000"/>
<path d="M752.8 560.6h0M731.8 524.3h0" stroke="#0000cc"/>
<path d="M516.3 769.1h0" stroke="#00ccff"/>
<path d="M667.5 574.3h0M706.9 585.5h0M648.7 589.6h0" stroke="#0000cc"/>
<path d="M395 828.9h0" stroke="#00ccff"/>
<path d="M636.6 635.8h0" stroke="#0033ff"/>
<path d="M739.3 521.3h0" stroke="#0000ff"/>
<path d="M498.2 778.2h0" stroke="#00ffff"/>
<path d="M226.4 1021.3h0" stroke="#ccff33"/>
<path d="M556.5 674.7h0" stroke="#0033ff"/>
<path d="M566.4 714.9h0" stroke="#0066ff"/>
<path d="M344.4 886.7h0" stroke="#ccff33"/>
<path d="M357.2 869h0" stroke="#33ffcc"/>
<path d="M527.5 725.1h0" stroke="#0099ff"/>
<path d="M479.3 800.3h0" stroke="#00ffff"/>
<path d="M596.6 708.8h0" stroke="#0000ff"/>
<path d="M490.7 738.9h0M542.7 697.7h0" stroke="#0033ff"/>
<path d="M400.4 827.6h0" stroke="#00ccff"/>
<path d="M510.1 731.6h0" stroke="#0099ff"/>
<path d="M567.2 675.7h0" stroke="#0033ff"/>
<path d="M337.3 930h0" stroke="#33ffcc"/>
<path d="M497.8 739.6h0M470.1 760.8h0" stroke="#0066ff"/>
<path d="M393.7 811.5h0" stroke="#000080"/>
<path d="M673.6 585.7h0" stroke="#0000ff"/>
<path d="M322.6 938.8h0" stroke="#ffcc00"/>
<path d="M354.8 859.3h0" stroke="#0000ff"/>
<path d="M533.3 707.1h0" stroke="#0033ff"/>
<path d="M585.4 702.8h0" stroke="#0066ff"/>
<path d="M578.5 721.8h0" stroke="#0000ff"/>
<path d="M479 775.4h0" stroke="#00ffff"/>
<path d="M490.7 794.3h0" stroke="#00ccff"/>
<path d="M474 737.9h0" stroke="#000080"/>
<path d="M330.4 933h0" stroke="#ccff33"/>
<path d="M231.7 998.6h0" stroke="#00ffff"/>
<path d="M682.5 619.9h0" stroke="#0000ff"/>
<path d="M465.7 769.5h0" stroke="#0066ff"/>
<path d="M229.8 1003.9h0" stroke="#ccff33"/>
<path d="M265.4 964.7h0" stroke="#33ffcc"/>
<path d="M405.1 813h0" stroke="#0000cc"/>
<path d="M326.2 901.6h0" stroke="#ccff33"/>
<path d="M180.4 1055.2h0" stroke="#00ffff"/>
<path d="M711.3 550.5h0" stroke="#0000ff"/>
<path d="M390.7 816h0" stroke="#000080"/>
<path d="M672.7 573.6h0" stroke="#0000cc"/>
<path d="M532.1 708.3h0" stroke="#0000ff"/>
<path d="M679.3 585.5h0" stroke="#0033ff"/>
<path d="M653.4 629.9h0" stroke="#0066ff"/>
<path d="M349.1 884.6h0" stroke="#ff9900"/>
<path d="M182.7 1059.3h0" stroke="#0033ff"/>
<path d="M380.2 885.3h0" stroke="#ffcc00"/>
<path d="M334.3 942.7h0" stroke="#000080"/>
<path d="M445.2 811.4h0" stroke="#99ff66"/>
<path d="M503.7 727.9h0" stroke="#0000ff"/>
<path d="M813.8 477.1h0" stroke="#000080"/>
<path d="M600.6 642.2h0" stroke="#0033ff"/>
<path d="M516.2 753.9h0" stroke="#0099ff"/>
<path d="M320.9 942.8h0" stroke="#99ff66"/>
<path d="M715.4 565.8h0" stroke="#0000ff"/>
<path d="M746 499.3h0" stroke="#000080"/>
<path d="M192.6 1047.6h0" stroke="#ccff33"/>
<path d="M402.3 840h0" stroke="#99ff66"/>
<path d="M740.4 504.8h0" stroke="#000080"/>
<path d="M478.1 815.6h0" stroke="#0066ff"/>
<path d="M240.4 1011.6h0" stroke="#00ffff"/>
<path d="M411.4 832.2h0" stroke="#ccff33"/>
<path d="M729.7 571.7h0" stroke="#0000cc"/>
<path d="M331.6 889.6h0" stroke="#0066ff"/>
<path d="M277.6 946.9h0" stroke="#0033ff"/>
<path d="M245.5 1001.9h0" stroke="#ff3300"/>
<path d="M383.8 835h0" stroke="#0066ff"/>
<path d="M303.8 927h0" stroke="#ffcc00"/>
<path d="M428.7 830.4h0" stroke="#66ff99"/>
<path d="M449.7 837.7h0" stroke="#0066ff"/>
<path d="M664.6 594.4h0" stroke="#0033ff"/>
<path d="M761.7 523.3h0M823.7 493.9h0" stroke="#000080"/>
<path d="M315.2 948.8h0" stroke="#33ffcc"/>
<path d="M439.4 836h0" stroke="#66ff99"/>
<path d="M568.3 709.3h0" stroke="#0066ff"/>
<path d="M534.3 745.6h0" stroke="#0099ff"/>
<path d="M579.8 708h0" stroke="#0033ff"/>
<path d="M650.9 638.7h0" stroke="#0000ff"/>
<path d="M191.6 1050h0" stroke="#66ff99"/>
<path d="M610.6 657.6h0" stroke="#0033ff"/>
<path d="M381 884.9h0" stroke="#ffcc00"/>
<path d="M585.7 717.6h0M492.6 736.3h0" stroke="#0033ff"/>
<path d="M589.4 638.3h0" stroke="#000080"/>
<path d="M597.5 649.6h0" stroke="#0000ff"/>
<path d="M404.4 847.9h0" stroke="#ccff33"/>
<path d="M468.8 762.3h0" stroke="#0033ff"/>
<path d="M430.5 814.3h0" stroke="#33ffcc"/>
<path d="M485.1 765.7h0" stroke="#00ffff"/>
<path d="M701.9 553.4h0M548 684.4h0" stroke="#0000ff"/>
<path d="M370.4 897.6h0" stroke="#99ff66"/>
<path d="M377.3 826.8h0" stroke="#000080"/>
<path d="M556.6 701h0" stroke="#0066ff"/>
<path d="M471.3 812.9h0" stroke="#00ccff"/>
<path d="M676.6 598.3h0" stroke="#0033ff"/>
<path d="M695.2 599h0" stroke="#0000ff"/>
<path d="M450.9 788.6h0M207.9 1023.5h0" stroke="#00ccff"/>
<path d="M197.8 1038.1h0" stroke="#99ff66"/>
<path d="M433.4 847.5h0" stroke="#00ffff"/>
<path d="M666.1 623.7h0" stroke="#0000ff"/>
<path d="M738.6 547.3h0" stroke="#0000cc"/>
<path d="M423.4 806.2h0" stroke="#00ccff"/>
<path d="M354.6 876.6h0" stroke="#ccff33"/>
<path d="M749.7 549.6h0" stroke="#0000ff"/>
<path d="M238 995.4h0" stroke="#ffcc00"/>
<path d="M209.2 1038.5h0" stroke="#0033ff"/>
<path d="M226.4 1019.8h0" stroke="#ffcc00"/>
<path d="M579.1 650.3h0" stroke="#000080"/>
<path d="M548.9 730.5h0" stroke="#0099ff"/>
<path d="M252.1 1001.9h0M417.6 814.1h0" stroke="#00ccff"/>
<path d="M592.8 665.1h0" stroke="#0033ff"/>
<path d="M530.9 706.2h0" stroke="#0000ff"/>
<path d="M413.4 832.9h0" stroke="#99ff66"/>
<path d="M681.5 610h0" stroke="#0000cc"/>
<path d="M344.6 872.8h0" stroke="#0000ff"/>
<path d="M415.8 827.3h0" stroke="#99ff66"/>
<path d="M750.2 564.8h0" stroke="#0000cc"/>
<path d="M747.1 552.4h0" stroke="#0000ff"/>
<path d="M790.5 505.8h0" stroke="#000080"/>
<path d="M535.3 775h0" stroke="#0000cc"/>
<path d="M310.4 934.5h0" stroke="#990000"/>
<path d="M187.4 1050.4h0" stroke="#66ff99"/>
<path d="M610.7 630h0" stroke="#0000cc"/>
<path d="M797.9 455.4h0" stroke="#000080"/>
<path d="M490.9 785.7h0" stroke="#00ffff"/>
<path d="M652.9 603.6h0" stroke="#0000ff"/>
<path d="M648.1 636.8h0" stroke="#0033ff"/>
<path d="M679.8 609.9h0" stroke="#0066ff"/>
<path d="M432.7 785.1h0" stroke="#000080"/>
<path d="M618.1 636.6h0" stroke="#0033ff"/>
<path d="M662.4 637h0" stroke="#0000ff"/>
<path d="M772.5 508.8h0" stroke="#0000cc"/>
<path d="M447.3 785.1h0" stroke="#00ccff"/>
<path d="M460.6 795.1h0" stroke="#33ffcc"/>
<path d="M474.3 769.9h0" stroke="#00ccff"/>
<path d="M746.6 553.9h0" stroke="#0000ff"/>
<path d="M530.7 796h0" stroke="#0000cc"/>
<path d="M575.6 679.3h0" stroke="#0033ff"/>
<path d="M425.2 845.3h0" stroke="#99ff66"/>
<path d="M525.6 741h0" stroke="#00ccff"/>
<path d="M375.2 872.1h0" stroke="#ff9900"/>
<path d="M640.2 634.9h0" stroke="#0066ff"/>
<path d="M253 976.5h0" stroke="#0099ff"/>
<path d="M762.3 489.4h0" stroke="#000080"/>
<path d="M331.2 930.8h0" stroke="#ff9900"/>
<path d="M518.9 732.4h0" stroke="#0099ff"/>
<path d="M636.1 649.2h0" stroke="#0033ff"/>
<path d="M476.7 785.4h0" stroke="#00ffff"/>
<path d="M346.2 883.6h0" stroke="#ccff33"/>
<path d="M456.3 812.4h0" stroke="#66ff99"/>
<path d="M660.5 605.4h0" stroke="#0000ff"/>
<path d="M529.4 762.6h0" stroke="#0099ff"/>
<path d="M491.5 802.5h0" stroke="#0066ff"/>
<path d="M430.9 853.7h0" stroke="#00ccff"/>
<path d="M558.8 716.2h0" stroke="#0066ff"/>
<path d="M382.4 852.7h0" stroke="#ffff00"/>
<path d="M757.4 557.2h0" stroke="#0000cc"/>
<path d="M309 948h0" stroke="#ff6600"/>
<path d="M464.1 812.2h0" stroke="#00ffff"/>
<path d="M656.4 617.7h0" stroke="#0033ff"/>
<path d="M410.6 858.7h0" stroke="#ccff33"/>
<path d="M580.6 681.4h0" stroke="#0066ff"/>
<path d="M448.7 809h0" stroke="#00ffff"/>
<path d="M388.6 878.7h0" stroke="#ffff00"/>
<path d="M244.1 992.5h0" stroke="#ff6600"/>
<path d="M216.6 1017.7h0" stroke="#ffff00"/>
<path d="M224.1 1014.4h0" stroke="#ff6600"/>
<path d="M702.4 562.2h0" stroke="#0000cc"/>
<path d="M200.3 1033.6h0" stroke="#99ff66"/>
<path d="M303.5 956.7h0" stroke="#ccff33"/>
<path d="M700.2 567h0" stroke="#0000cc"/>
<path d="M525.3 724.1h0" stroke="#0099ff"/>
<path d="M697.2 584h0" stroke="#0000ff"/>
<path d="M491.3 745.2h0" stroke="#0066ff"/>
<path d="M521.5 737.3h0" stroke="#0099ff"/>
<path d="M596.9 691.7h0" stroke="#0033ff"/>
<path d="M302.1 949.4h0" stroke="#ff0000"/>
<path d="M479.7 754.7h0" stroke="#0066ff"/>
<path d="M385.5 883.8h0" stroke="#99ff66"/>
<path d="M667.4 630.7h0" stroke="#0033ff"/>
<path d="M513.5 783.9h0" stroke="#0099ff"/>
<path d="M505 783.9h0" stroke="#00ccff"/>
<path d="M608.8 647.5h0" stroke="#0066ff"/>
<path d="M302 923h0" stroke="#0099ff"/>
<path d="M416.7 823.4h0" stroke="#99ff66"/>
<path d="M612.3 650.5h0" stroke="#0066ff"/>
<path d="M698 589.9h0" stroke="#0000ff"/>
<path d="M214.5 1032h0" stroke="#66ff99"/>
<path d="M660.3 641.3h0" stroke="#0000ff"/>
<path d="M346.1 904.4h0" stroke="#ff3300"/>
<path d="M487.5 798.6h0" stroke="#00ccff"/>
<path d="M636.3 666.3h0" stroke="#0000ff"/>
<path d="M208 1032.1h0" stroke="#ffcc00"/>
<path d="M532.1 714.4h0" stroke="#0066ff"/>
<path d="M486.7 742.9h0" stroke="#0033ff"/>
<path d="M511.7 779.1h0" stroke="#0066ff"/>
<path d="M446.7 807.3h0" stroke="#33ffcc"/>
<path d="M390 854.6h0" stroke="#ffcc00"/>
<path d="M219 1028.3h0" stroke="#33ffcc"/>
<path d="M625.4 688.9h0" stroke="#0000cc"/>
<path d="M412.9 846.2h0" stroke="#ccff33"/>
<path d="M623.1 634.6h0" stroke="#0033ff"/>
<path d="M288.3 952.4h0" stroke="#ff0000"/>
<path d="M513.2 724h0" stroke="#0066ff"/>
<path d="M292.9 939.3h0" stroke="#ffcc00"/>
<path d="M510.4 746.1h0" stroke="#0099ff"/>
<path d="M397.3 876.9h0" stroke="#33ffcc"/>
<path d="M373.2 882.1h0" stroke="#ffcc00"/>
<path d="M245.7 981.3h0" stroke="#0000ff"/>
<path d="M580 688.1h0" stroke="#0066ff"/>
<path d="M301.1 962.6h0" stroke="#0099ff"/>
<path d="M443.3 845.2h0" stroke="#0066ff"/>
<path d="M257.3 971.5h0" stroke="#0099ff"/>
<path d="M707.2 547.8h0" stroke="#0000cc"/>
<path d="M420.3 864.7h0" stroke="#0066ff"/>
<path d="M435.9 807.9h0" stroke="#66ff99"/>
<path d="M590.8 666.3h0" stroke="#0099ff"/>
<path d="M334.6 905.3h0" stroke="#ff0000"/>
<path d="M731.1 569.6h0" stroke="#0000cc"/>
<path d="M355.7 906.5h0" stroke="#ff6600"/>
<path d="M461.3 826.3h0M550.3 724.2h0" stroke="#0099ff"/>
<path d="M782.7 490.3h0" stroke="#000080"/>
<path d="M319.9 908.2h0" stroke="#99ff66"/>
<path d="M258.4 990.5h0" stroke="#ff0000"/>
<path d="M364.5 874h0" stroke="#ff9900"/>
<path d="M451.5 775.5h0" stroke="#0033ff"/>
<path d="M514.4 740.6h0" stroke="#0099ff"/>
<path d="M204.4 1030.1h0" stroke="#66ff99"/>
<path d="M668.8 633.5h0" stroke="#0000ff"/>
<path d="M458.3 834.5h0" stroke="#0066ff"/>
<path d="M242.2 994.5h0" stroke="#ff6600"/>
<path d="M699.6 599h0" stroke="#0000cc"/>
<path d="M537.3 699.4h0M667.7 625.8h0" stroke="#0000ff"/>
<path d="M596.6 661.4h0" stroke="#0066ff"/>
<path d="M199.2 1043.3h0" stroke="#66ff99"/>
<path d="M337.4 911.6h0" stroke="#ff3300"/>
<path d="M221.4 1015.6h0" stroke="#ff6600"/>
<path d="M400.5 869.8h0" stroke="#99ff66"/>
<path d="M591.4 654.5h0" stroke="#0033ff"/>
<path d="M461.3 754.9h0" stroke="#0000cc"/>
<path d="M493.7 747h0M593.9 695.2h0" stroke="#0066ff"/>
<path d="M481.6 767.4h0" stroke="#00ffff"/>
<path d="M718 532.6h0" stroke="#0000cc"/>
<path d="M428.3 807.2h0" stroke="#00ffff"/>
<path d="M695.7 566.8h0" stroke="#0000ff"/>
<path d="M730.9 550.1h0" stroke="#0033ff"/>
<path d="M356.2 891.2h0" stroke="#ff3300"/>
<path d="M740.6 547.5h0" stroke="#0000cc"/>
<path d="M357.3 898.4h0" stroke="#ff3300"/>
<path d="M502.5 779.5h0" stroke="#0099ff"/>
<path d="M361.6 888.3h0" stroke="#ff6600"/>
<path d="M430.2 836.5h0" stroke="#ccff33"/>
<path d="M475.3 755.3h0" stroke="#0066ff"/>
<path d="M657.8 611h0" stroke="#0000ff"/>
<path d="M406.4 867.1h0" stroke="#99ff66"/>
<path d="M707.7 558.4h0" stroke="#0000cc"/>
<path d="M552.5 705h0" stroke="#0099ff"/>
<path d="M291.7 941.6h0" stroke="#ff6600"/>
<path d="M418 846h0" stroke="#ccff33"/>
<path d="M465 799.4h0" stroke="#33ffcc"/>
<path d="M529.5 749.9h0" stroke="#00ccff"/>
<path d="M300.8 947.9h0" stroke="#cc0000"/>
<path d="M458.2 803.4h0" stroke="#33ffcc"/>
<path d="M372.2 878.7h0" stroke="#ffcc00"/>
<path d="M527.4 780.6h0M782.7 518.4h0" stroke="#0000cc"/>
<path d="M605.3 667.5h0" stroke="#0066ff"/>
<path d="M503 725.9h0" stroke="#0000ff"/>
<path d="M270.5 965.3h0" stroke="#ff3300"/>
<path d="M238.4 1013.1h0" stroke="#00ccff"/>
<path d="M459.5 801.7h0" stroke="#33ffcc"/>
<path d="M565.1 654.7h0" stroke="#000080"/>
<path d="M313.6 913.5h0" stroke="#66ff99"/>
<path d="M475.8 777h0" stroke="#33ffcc"/>
<path d="M418.5 834.3h0" stroke="#ccff33"/>
<path d="M282.8 951.4h0" stroke="#ff6600"/>
<path d="M788.3 511.4h0" stroke="#000080"/>
<path d="M203.2 1042.4h0" stroke="#0099ff"/>
<path d="M550.2 684.7h0" stroke="#0000ff"/>
<path d="M416 852.7h0" stroke="#99ff66"/>
<path d="M576.6 703h0" stroke="#0066ff"/>
<path d="M368.1 864.5h0" stroke="#ccff33"/>
<path d="M273.4 953h0" stroke="#0066ff"/>
<path d="M731.9 556h0" stroke="#0000cc"/>
<path d="M755.9 480.8h0" stroke="#000080"/>
<path d="M405.9 874.3h0M408.5 816.8h0" stroke="#0066ff"/>
<path d="M251.5 983.6h0" stroke="#ff9900"/>
<path d="M399.9 845.3h0M399.2 842.9h0" stroke="#ccff33"/>
<path d="M322.6 925.2h0" stroke="#990000"/>
<path d="M413.3 835.5h0" stroke="#99ff66"/>
<path d="M299.7 957.9h0" stroke="#ff6600"/>
<path d="M274.9 987h0" stroke="#000080"/>
<path d="M287.7 944.5h0" stroke="#ff9900"/>
<path d="M704.6 603.3h0" stroke="#0000ff"/>
<path d="M249.2 984.6h0" stroke="#ffcc00"/>
<path d="M352.2 872.2h0" stroke="#00ffff"/>
<path d="M737.7 430.7h0" stroke="#000080"/>
<path d="M578.1 665.2h0" stroke="#0033ff"/>
<path d="M697.9 568h0M581.3 667.9h0M704 577.7h0" stroke="#0000ff"/>
<path d="M564.3 695.2h0" stroke="#0066ff"/>
<path d="M644.5 597.3h0" stroke="#000080"/>
<path d="M381.5 844.9h0" stroke="#00ffff"/>
<path d="M397.2 822.2h0" stroke="#0066ff"/>
<path d="M438.3 797.1h0" stroke="#00ffff"/>
<path d="M358 883.8h0" stroke="#ff6600"/>
<path d="M394.3 838.1h0" stroke="#66ff99"/>
<path d="M678.9 590.8h0" stroke="#0000cc"/>
<path d="M708.3 594.7h0" stroke="#0033ff"/>
<path d="M420.3 830.1h0" stroke="#99ff66"/>
<path d="M484.8 745.8h0" stroke="#0000ff"/>
<path d="M590.5 678.6h0" stroke="#0066ff"/>
<path d="M343.6 896.5h0" stroke="#ff3300"/>
<path d="M250.2 981.5h0" stroke="#99ff66"/>
<path d="M502.8 749.3h0" stroke="#00ccff"/>
<path d="M360.1 882.1h0" stroke="#ff6600"/>
<path d="M241.2 999.5h0" stroke="#ff0000"/>
<path d="M634.6 655h0" stroke="#0000ff"/>
<path d="M336.4 924.8h0" stroke="#ff6600"/>
<path d="M455.4 771.7h0" stroke="#0033ff"/>
<path d="M415.5 841.9h0" stroke="#ccff33"/>
<path d="M628.3 680.7h0" stroke="#0033ff"/>
<path d="M271.8 983.7h0" stroke="#66ff99"/>
<path d="M268.1 984.2h0" stroke="#ff6600"/>
<path d="M330.3 929.6h0" stroke="#ff9900"/>
<path d="M274 976.3h0M264.1 980.9h0" stroke="#cc0000"/>
<path d="M729.7 561.8h0" stroke="#0000cc"/>
<path d="M447.9 815.1h0" stroke="#33ffcc"/>
<path d="M395.8 850.1h0" stroke="#ccff33"/>
<path d="M549.2 718.1h0" stroke="#0066ff"/>
<path d="M223.7 1013h0" stroke="#ff6600"/>
<path d="M450.1 795.9h0" stroke="#33ffcc"/>
<path d="M332.8 895.2h0" stroke="#99ff66"/>
<path d="M267.5 969.7h0" stroke="#cc0000"/>
<path d="M458.4 775.6h0" stroke="#0099ff"/>
<path d="M290.5 964.1h0" stroke="#ff3300"/>
<path d="M321.2 937.5h0" stroke="#ff6600"/>
<path d="M306.8 938.3h0" stroke="#ff0000"/>
<path d="M617.4 640.6h0" stroke="#0000ff"/>
<path d="M372.5 872.4h0" stroke="#ffcc00"/>
<path d="M326.4 910.8h0" stroke="#ff3300"/>
<path d="M645.9 625h0" stroke="#0033ff"/>
<path d="M648.2 640.9h0" stroke="#0000ff"/>
<path d="M261.2 978h0" stroke="#ff0000"/>
<path d="M700.4 594h0" stroke="#0000ff"/>
<path d="M272.1 978.7h0" stroke="#ff0000"/>
<path d="M383.9 863.3h0" stroke="#ffff00"/>
<path d="M296.8 943.3h0" stroke="#990000"/>
<path d="M746.2 566.7h0" stroke="#0000ff"/>
<path d="M450.9 831.9h0" stroke="#00ffff"/>
<path d="M308 935.2h0" stroke="#cc0000"/>
<path d="M503.6 755.4h0" stroke="#00ccff"/>
<path d="M384.3 874.3h0" stroke="#ffcc00"/>
<path d="M313.8 953h0" stroke="#0000ff"/>
<path d="M333 912.6h0" stroke="#ff0000"/>
<path d="M299.2 952.7h0" stroke="#cc0000"/>
<path d="M658.1 625.7h0" stroke="#0033ff"/>
<path d="M412.1 855h0" stroke="#ccff33"/>
<path d="M528.4 724.6h0" stroke="#0066ff"/>
<path d="M457.7 799h0" stroke="#33ffcc"/>
<path d="M544.8 681.1h0" stroke="#0000ff"/>
<path d="M672.3 572.3h0" stroke="#000080"/>
<path d="M468.3 777.5h0" stroke="#33ffcc"/>
<path d="M477 776.3h0M518.6 743.6h0" stroke="#00ccff"/>
<path d="M346.5 918.8h0" stroke="#ccff33"/>
<path d="M623.5 619.3h0" stroke="#0000ff"/>
<path d="M300.6 934h0" stroke="#ff3300"/>
<path d="M406.4 851.7h0" stroke="#ffff00"/>
<path d="M565.4 692.8h0" stroke="#0066ff"/>
<path d="M261 990.1h0" stroke="#ff9900"/>
<path d="M340 899.8h0" stroke="#ff6600"/>
<path d="M200.7 1041.9h0" stroke="#66ff99"/>
<path d="M234.2 1009.4h0" stroke="#ff3300"/>
<path d="M429.7 794.4h0" stroke="#0066ff"/>
<path d="M356.4 901.7h0" stroke="#ff6600"/>
<path d="M488.5 789.6h0M201.6 1031.1h0" stroke="#00ffff"/>
<path d="M406.5 863.1h0" stroke="#66ff99"/>
<path d="M426.6 810.5h0" stroke="#33ffcc"/>
<path d="M717.2 522.8h0" stroke="#000080"/>
<path d="M394.4 867.3h0M253 997.9h0" stroke="#ffff00"/>
<path d="M445.8 804.1h0" stroke="#66ff99"/>
<path d="M402.4 860.7h0" stroke="#ccff33"/>
<path d="M550 712.8h0" stroke="#0066ff"/>
<path d="M446.2 796.4h0" stroke="#33ffcc"/>
<path d="M333.5 920.9h0" stroke="#cc0000"/>
<path d="M668.6 610.5h0" stroke="#0066ff"/>
<path d="M264.3 989.4h0" stroke="#ffff00"/>
<path d="M535.5 720.6h0" stroke="#0066ff"/>
<path d="M433.4 790.2h0" stroke="#0033ff"/>
<path d="M348.9 911.2h0M233.2 1004.7h0" stroke="#ff6600"/>
<path d="M437.2 788.7h0" stroke="#0033ff"/>
<path d="M618.8 614.5h0" stroke="#000080"/>
<path d="M517.5 721.5h0" stroke="#0033ff"/>
<path d="M473.5 764.9h0M534 733.5h0" stroke="#0099ff"/>
<path d="M395.2 859.1h0" stroke="#ffff00"/>
<path d="M575.3 684.8h0" stroke="#0066ff"/>
<path d="M477.3 767.8h0" stroke="#00ccff"/>
<path d="M399.8 836.7h0" stroke="#99ff66"/>
<path d="M250.5 996.2h0" stroke="#ff0000"/>
<path d="M524 750.1h0M478.2 788.7h0" stroke="#00ffff"/>
<path d="M658.5 574.4h0" stroke="#000080"/>
<path d="M244.6 1001.7h0" stroke="#ff0000"/>
<path d="M487 755.6h0" stroke="#0099ff"/>
<path d="M267.5 972.3h0" stroke="#ff0000"/>
<path d="M215.6 1035.1h0" stroke="#0000cc"/>
<path d="M546.7 731h0" stroke="#0099ff"/>
<path d="M296.8 956.2h0" stroke="#cc0000"/>
<path d="M571.6 672.5h0" stroke="#0033ff"/>
<path d="M481.5 762.3h0" stroke="#00ffff"/>
<path d="M723 583.1h0" stroke="#0000cc"/>
<path d="M753.8 534.6h0" stroke="#0000ff"/>
<path d="M247.4 998.7h0" stroke="#ff0000"/>
<path d="M682 577.4h0" stroke="#0000cc"/>
<path d="M327.3 901h0" stroke="#99ff66"/>
<path d="M343.5 898.4h0" stroke="#ff3300"/>
<path d="M563.6 663.1h0" stroke="#000080"/>
<path d="M417.6 854.1h0" stroke="#33ffcc"/>
<path d="M481.9 792.7h0" stroke="#00ffff"/>
<path d="M235.9 1011.7h0" stroke="#ff6600"/>
<path d="M331.7 917.6h0" stroke="#cc0000"/>
<path d="M496.4 752.3h0" stroke="#00ccff"/>
<path d="M454.9 777.9h0" stroke="#0099ff"/>
<path d="M234.6 998.5h0M288.5 941h0" stroke="#99ff66"/>
<path d="M425.5 814.7h0" stroke="#66ff99"/>
<path d="M557.4 724.9h0" stroke="#0066ff"/>
<path d="M341.9 910.1h0" stroke="#ff3300"/>
<path d="M443.9 780.1h0" stroke="#0099ff"/>
<path d="M708.6 552.7h0" stroke="#0000ff"/>
<path d="M278.5 964h0" stroke="#ff0000"/>
<path d="M197.5 1042.2h0" stroke="#66ff99"/>
<path d="M318.9 925.1h0" stroke="#cc0000"/>
<path d="M460.1 805.9h0" stroke="#66ff99"/>
<path d="M691.1 566.1h0" stroke="#0000cc"/>
<path d="M317.1 941.5h0" stroke="#ff3300"/>
<path d="M609.6 642.8h0" stroke="#0066ff"/>
<path d="M643.2 645.7h0" stroke="#0000ff"/>
<path d="M285.2 966.1h0" stroke="#ff0000"/>
<path d="M719.7 598.3h0" stroke="#0000cc"/>
<path d="M371.6 863.5h0" stroke="#ccff33"/>
<path d="M390.2 841.9h0" stroke="#66ff99"/>
<path d="M363.2 878.7h0" stroke="#ff9900"/>
<path d="M274.9 951.1h0" stroke="#0066ff"/>
<path d="M340.7 888.8h0" stroke="#ccff33"/>
<path d="M291.4 958.3h0" stroke="#cc0000"/>
<path d="M374 887.1h0" stroke="#ffcc00"/>
<path d="M794 497.4h0" stroke="#000080"/>
<path d="M447.7 819.8h0" stroke="#66ff99"/>
<path d="M380.7 835.1h0" stroke="#0000ff"/>
<path d="M462.9 805.2h0" stroke="#66ff99"/>
<path d="M327.9 912h0" stroke="#ff0000"/>
<path d="M300.2 923.5h0" stroke="#0066ff"/>
<path d="M440.5 784.9h0" stroke="#0033ff"/>
<path d="M313.5 922.8h0" stroke="#ff3300"/>
<path d="M682 618.8h0" stroke="#0000cc"/>
<path d="M284.4 956.2h0" stroke="#ff0000"/>
<path d="M489.4 758.9h0M510.5 762.8h0" stroke="#00ccff"/>
<path d="M522.7 688h0" stroke="#000080"/>
<path d="M777.8 508.2h0" stroke="#0000ff"/>
<path d="M236.3 1008.7h0" stroke="#ff6600"/>
<path d="M373.8 843h0" stroke="#0000ff"/>
<path d="M747.2 527.9h0" stroke="#0000cc"/>
<path d="M316.9 914h0" stroke="#ffff00"/>
<path d="M602.6 676.3h0" stroke="#0066ff"/>
<path d="M581.2 706.4h0" stroke="#0099ff"/>
<path d="M374.2 859.7h0" stroke="#ccff33"/>
<path d="M516.9 738.1h0" stroke="#0099ff"/>
<path d="M396.2 855.2h0" stroke="#ccff33"/>
<path d="M695 593.4h0" stroke="#0000ff"/>
<path d="M490 776.2h0" stroke="#00ffff"/>
<path d="M317.7 912.7h0M386.9 855.6h0" stroke="#ffff00"/>
<path d="M519.6 752.4h0" stroke="#00ffff"/>
<path d="M297.5 945.4h0" stroke="#cc0000"/>
<path d="M355.7 888.8h0" stroke="#ff6600"/>
<path d="M448 793.9h0" stroke="#66ff99"/>
<path d="M608 670.3h0" stroke="#0033ff"/>
<path d="M357 914.4h0" stroke="#00ccff"/>
<path d="M375 880h0" stroke="#ff6600"/>
<path d="M622.4 618.9h0" stroke="#0000ff"/>
<path d="M441.8 775.6h0M305.8 913.4h0" stroke="#0000cc"/>
<path d="M222.3 1020.6h0" stroke="#ff6600"/>
<path d="M357.8 907.4h0" stroke="#ffff00"/>
<path d="M358.6 888.8h0" stroke="#ff9900"/>
<path d="M795.8 476.3h0" stroke="#0000cc"/>
<path d="M502.6 766.7h0" stroke="#00ccff"/>
<path d="M443.4 806.5h0" stroke="#66ff99"/>
<path d="M610.3 674.7h0" stroke="#0033ff"/>
<path d="M437.6 843.8h0" stroke="#00ffff"/>
<path d="M518.8 788.8h0M709.6 563.4h0M579.9 715.4h0" stroke="#0033ff"/>
<path d="M439.8 827.3h0" stroke="#66ff99"/>
<path d="M502.7 735.1h0" stroke="#0099ff"/>
<path d="M763.9 540.2h0" stroke="#000080"/>
<path d="M326.7 921.1h0" stroke="#cc0000"/>
<path d="M452.8 819.1h0" stroke="#33ffcc"/>
<path d="M375.2 841.9h0" stroke="#0033ff"/>
<path d="M429.9 841.6h0" stroke="#99ff66"/>
<path d="M461.1 817h0" stroke="#33ffcc"/>
<path d="M263.3 989.6h0" stroke="#ffff00"/>
<path d="M343.1 885.6h0" stroke="#99ff66"/>
<path d="M408.9 811.9h0" stroke="#0033ff"/>
<path d="M971.7 186.4h0M1053.6 164.7h0M1086.9 181.4h0M1056.4 230.7h0M1060.7 231.4h0M1079.3 232.9h0M1044.6 245.4h0M1059.3 242.9h0M1063.6 245.7h0M1028.9 257.4h0M1027.9 268.3h0M1040.7 270.7h0M991.9 267.9h0M961.4 271.4h0M975 275.4h0M1026.4 287.9h0M1035.7 287.1h0M1042.9 285.7h0M985.7 289.3h0M991.4 287.9h0M997.1 293.6h0M961.4 295.7h0M1112.1 162.1h0M1142.7 160.1h0M1121.8 208.5h0M1120.9 218.6h0M1179.3 249.8h0M895.7 321.1h0M915.3 320h0M924.6 324.3h0M940.3 310h0M948.9 317.1h0M939.6 324.3h0M961 300.7h0M970.3 310.7h0M980.3 311.4h0M991.7 308.6h0M996.7 300.7h0M953.1 330h0M963.1 325.7h0M968.9 334.3h0M976 328.6h0M988.9 332.9h0M1003.1 328.6h0M973.9 347.9h0M994.6 350h0M1024.6 305.7h0M1024.6 318.6h0M1026 348.6h0M918.9 338.6h0M928.9 335.7h0M940.3 340h0M916.7 350h0M906 354.3h0M926 348.6h0M928.9 355.7h0M904.6 361.4h0M911.7 367.1h0M918.9 362.9h0M926 360h0M947.4 357.1h0M951.7 357.1h0M951.7 364.3h0M944.6 362.9h0M937.4 360h0M968.9 366.4h0M952.4 375.7h0M971.7 379.3h0M968.9 387.1h0M986.7 377.9h0M936.7 383.6h0M952.4 388.6h0M926 375.7h0M914.6 380h0M906 384.3h0M918.9 385.7h0M923.1 390h0M893.1 387.1h0M900.3 392.9h0M906 400h0M917.4 394.3h0M926 400h0M920.3 405.7h0M907.4 408.6h0M903.1 418.6h0M937.4 408.6h0M944.6 417.1h0M956 407.1h0M947.4 428.6h0M921.7 422.9h0M911.7 435h0M924.6 439.3h0M931.7 434.3h0M883.1 370h0M878.9 375.7h0M846 385h0M834.6 390h0M838.9 400h0M871.7 384.3h0M878.9 394.3h0M858.9 397.1h0M867.4 402.9h0M853.1 408.6h0M891.7 394.3h0M888.9 402.9h0M886 411.4h0M877.4 414.3h0M861.7 414.3h0M868.9 422.9h0M857.4 428.6h0M840.3 417.1h0M828.9 424.3h0M834.6 428.6h0M834.6 437.1h0M830.3 444.3h0M851.7 435.7h0M861.7 437.1h0M881.7 431.4h0M884.6 442.9h0M864.6 448.6h0M847.4 450h0M868.9 457.1h0M826 457.1h0M841.7 442.9h0M1029.3 306.7h0M1027.7 319.2h0M1061.9 313h0M1070.8 309.7h0M1030.7 348.8h0M911.7 440h0M944.9 466h0M922 485.4h0M944 510.7h0M864.6 520h0M888.9 524.6h0M909.9 576h0M859.1 500h0M869.6 498.9h0M846 502.9h0M871.7 472.9h0M854.6 462.9h0M847.4 457.1h0M847.4 478.6h0M838.9 484.3h0M830.3 491.4h0M833.1 498.6h0M827.4 505.7h0M834.6 442.9h0M844.6 447.1h0M861.7 442.9h0M834.6 464.3h0M840.3 471.4h0M495.3 585.5h0M435.7 611.5h0M624.2 564.3h0M580.8 589.8h0M563.1 610.4h0M557.7 627.7h0M572.8 626.6h0M578.3 626.6h0M592.3 614.7h0M588 622.3h0M537.5 637h0M382.2 706.1h0M444.6 707.2h0M471.5 696.4h0M468.9 714.4h0M467.8 729.5h0M412.6 732.3h0M362.7 759.2h0M431 763.1h0M571.7 772.8h0M569.6 747.9h0M571.7 757.7h0M556.6 763.1h0M616.1 707.9h0M610.7 730.6h0M616.1 738.2h0M599.9 721.9h0M635.6 721.9h0M640 741.4h0M547.9 807.7h0M530.6 815.1h0M498.1 839.6h0M471.5 861.9h0M431.4 886.6h0M425.1 905.2h0M406.1 917.5h0M370.8 936.4h0M380.1 958h0M354.7 971h0M341.1 961.9h0M345.4 853.6h0M537.1 796.2h0M490.5 829.8h0M476.5 839.6h0M451.5 863.4h0M436.4 875.3h0M425.6 875.3h0M386.6 907.8h0M361.7 919.7h0M259 958.2h0M232 986h0M220 1000.2h0M328.7 974h0M325.7 957.5h0M311.5 966.5h0M292 978.5h0M727.8 659.6h0M701.8 684.5h0M780.4 627.6h0M791.7 605.9h0M766.8 579.5h0M781.9 582.7h0M814.4 581.7h0M822 590.3h0M827.4 600.1h0M760.3 600.1h0M759.2 612h0M674.7 666.6h0M660.6 746.3h0M645 741.9h0M649.8 705.1h0M646.6 698.6h0M680.1 687.8h0M668.2 690h0M656.3 679.1h0M705 641.2h0M697.5 638h0M688.8 651h0M765.7 336h0M802 399.3h0M806 397.3h0M784 438.7h0M829.7 390.7h0M810 437.3h0M820.7 436h0M827.3 429.3h0M810 446.7h0M799.3 453.3h0M816.7 454.7h0" stroke="#000080"/></g>
<path d="M175.00 1068V144M175 1068.00H1260M355.83 1068V144M175 914.00H1260M536.67 1068V144M175 760.00H1260M717.50 1068V144M175 606.00H1260M898.33 1068V144M175 452.00H1260M1079.17 1068V144M175 298.00H1260M1260.00 1068V144M175 144.00H1260" stroke="#b0b0b0" stroke-width="2.222" stroke-linecap="square" fill="none"/>
</g>
<path d="M175.00 1068v9.72M175 1068.00h-9.72M355.83 1068v9.72M175 914.00h-9.72M536.67 1068v9.72M175 760.00h-9.72M717.50 1068v9.72M175 606.00h-9.72M898.33 1068v9.72M175 452.00h-9.72M1079.17 1068v9.72M175 298.00h-9.72M1260.00 1068v9.72M175 144.00h-9.72" stroke="#000" stroke-width="2.222" fill="none"/>
<g font-family="Liberation Sans, sans-serif" fill="#000"><text transform="translate(166.85 1108.55) scale(0.9945 1)" font-size="29.44">0</text><text transform="translate(138.57 1078.55) scale(0.9945 1)" font-size="29.44">0</text><text transform="translate(338.89 1108.55) scale(1.0372 1)" font-size="29.44">10</text><text transform="translate(120.94 924.55) scale(1.0372 1)" font-size="29.44">10</text><text transform="translate(519.48 1108.55) scale(1.0447 1)" font-size="29.44">20</text><text transform="translate(120.70 770.55) scale(1.0447 1)" font-size="29.44">20</text><text transform="translate(700.79 1108.55) scale(1.0297 1)" font-size="29.44">30</text><text transform="translate(121.17 616.55) scale(1.0297 1)" font-size="29.44">30</text><text transform="translate(881.31 1108.55) scale(1.0394 1)" font-size="29.44">40</text><text transform="translate(120.87 462.55) scale(1.0394 1)" font-size="29.44">40</text><text transform="translate(1062.42 1108.55) scale(1.0308 1)" font-size="29.44">50</text><text transform="translate(121.14 308.55) scale(1.0308 1)" font-size="29.44">50</text><text transform="translate(1242.70 1108.55) scale(1.0484 1)" font-size="29.44">60</text><text transform="translate(120.59 154.55) scale(1.0484 1)" font-size="29.44">60</text></g>
<path d="M175 1062.61L1260 64.69" stroke="#000" stroke-width="4.167" stroke-linecap="square" fill="none" clip-path="url(#clip)"/>
<path d="M175 1068L1260 144" stroke="#000" stroke-width="4.167" stroke-dasharray="15.417 6.667" fill="none" clip-path="url(#clip)"/>
<path d="M175 1068H1260V144H175Z" stroke="#000" stroke-width="2.222" stroke-linejoin="miter" stroke-linecap="square" fill="none"/>
<g font-family="Liberation Sans, sans-serif" fill="#000"><text transform="translate(620.58 1152.96) scale(1.0944 1)" font-size="29.44">aer15 [kg/m</text><text transform="translate(806.83 1152.96) scale(0.9828 1)" font-size="29.44">]</text><text transform="translate(791.66 1142.33) scale(0.9586 1)" font-size="20.61">2</text></g>
<g font-family="Liberation Sans, sans-serif" fill="#000" transform="translate(98.23 706.65) rotate(-90)"><text transform="translate(0.02 0.00) scale(1.0314 1)" font-size="29.44">COWA [kg/m</text><text transform="translate(193.40 0.00) scale(0.9828 1)" font-size="29.44">]</text><text transform="translate(178.23 -10.63) scale(0.9586 1)" font-size="20.61">2</text></g>
<path d="M805.12 821.51H1227.45Q1235.78 821.51 1235.78 829.84V1040.28Q1235.78 1048.61 1227.45 1048.61H805.12Q796.79 1048.61 796.79 1040.28V829.84Q796.79 821.51 805.12 821.51Z" fill="#f5deb3" stroke="#000" stroke-width="2.778" opacity="0.5"/>
<g font-family="Liberation Sans, sans-serif" fill="#000"><text transform="translate(980.45 851.84) scale(1.1207 1)" font-size="29.44">y = 1.08x + 0.35</text><text transform="translate(1099.99 885.02) scale(1.2087 1)" font-size="29.44">r</text><text transform="translate(1134.82 885.02) scale(1.1144 1)" font-size="29.44">= 0.98</text><text transform="translate(1111.95 874.39) scale(0.9586 1)" font-size="20.61">2</text><text transform="translate(956.75 924.50) scale(1.1055 1)" font-size="29.44">bias = 1.57 [kg/m</text><text transform="translate(1219.55 924.50) scale(0.9828 1)" font-size="29.44">]</text><text transform="translate(1204.37 913.87) scale(0.9586 1)" font-size="20.61">2</text><text transform="translate(805.49 965.98) scale(1.1066 1)" font-size="29.44">rmsd = 2.2 (1.3) [kg/m</text><text transform="translate(1139.77 965.98) scale(1.0464 1)" font-size="29.44">] 8.1%</text><text transform="translate(1124.61 955.35) scale(0.9586 1)" font-size="20.61">2</text><text transform="translate(996.57 1001.88) scale(1.1034 1)" font-size="29.44">n valid = 37864</text><text transform="translate(916.59 1034.28) scale(1.0894 1)" font-size="29.44">n matchups = 328792</text></g>
</svg>
</body></html>
